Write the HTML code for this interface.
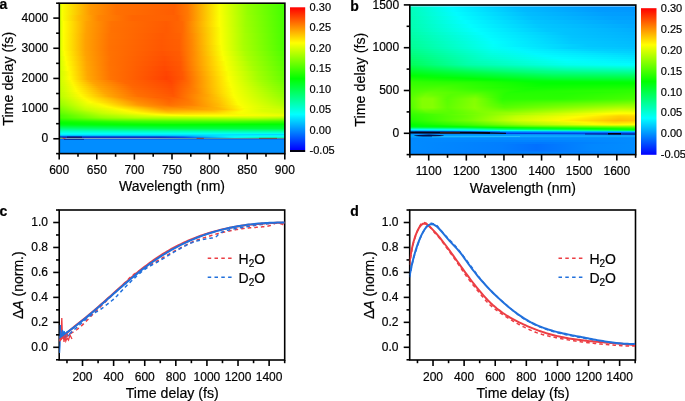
<!DOCTYPE html><html><head><meta charset="utf-8"><style>html,body{margin:0;padding:0;background:#fff;overflow:hidden}svg{display:block}text{fill:#000;stroke:#000;stroke-width:0.2px}</style></head><body><svg width="685" height="401" viewBox="0 0 685 401" font-family='"Liberation Sans", sans-serif'><defs><linearGradient id="g1" x1="59" x2="285" gradientUnits="userSpaceOnUse"><stop offset="0.002" stop-color="#cdff00"/><stop offset="0.015" stop-color="#faff00"/><stop offset="0.139" stop-color="#ff9800"/><stop offset="0.254" stop-color="#ff7100"/><stop offset="0.511" stop-color="#ff5f00"/><stop offset="0.569" stop-color="#ff7900"/><stop offset="0.710" stop-color="#f9ff00"/><stop offset="0.834" stop-color="#92ff00"/><stop offset="0.998" stop-color="#41ff00"/></linearGradient><linearGradient id="g2" x1="59" x2="285" gradientUnits="userSpaceOnUse"><stop offset="0.002" stop-color="#ceff00"/><stop offset="0.015" stop-color="#f9ff00"/><stop offset="0.139" stop-color="#ff9700"/><stop offset="0.254" stop-color="#ff7000"/><stop offset="0.507" stop-color="#ff5d00"/><stop offset="0.569" stop-color="#ff7800"/><stop offset="0.710" stop-color="#faff00"/><stop offset="0.834" stop-color="#94ff00"/><stop offset="0.998" stop-color="#43ff00"/></linearGradient><linearGradient id="g3" x1="59" x2="285" gradientUnits="userSpaceOnUse"><stop offset="0.002" stop-color="#ceff00"/><stop offset="0.015" stop-color="#f9ff00"/><stop offset="0.086" stop-color="#ffbd00"/><stop offset="0.175" stop-color="#ff8500"/><stop offset="0.325" stop-color="#ff6500"/><stop offset="0.524" stop-color="#ff6000"/><stop offset="0.573" stop-color="#ff7b00"/><stop offset="0.710" stop-color="#fcff00"/><stop offset="0.830" stop-color="#99ff00"/><stop offset="0.998" stop-color="#44ff00"/></linearGradient><linearGradient id="g4" x1="59" x2="285" gradientUnits="userSpaceOnUse"><stop offset="0.002" stop-color="#cfff00"/><stop offset="0.020" stop-color="#ffff00"/><stop offset="0.122" stop-color="#ffa100"/><stop offset="0.232" stop-color="#ff7200"/><stop offset="0.476" stop-color="#ff5b00"/><stop offset="0.546" stop-color="#ff6700"/><stop offset="0.710" stop-color="#fdff00"/><stop offset="0.825" stop-color="#9dff00"/><stop offset="0.998" stop-color="#45ff00"/></linearGradient><linearGradient id="g5" x1="59" x2="285" gradientUnits="userSpaceOnUse"><stop offset="0.002" stop-color="#d0ff00"/><stop offset="0.020" stop-color="#ffff00"/><stop offset="0.122" stop-color="#ffa000"/><stop offset="0.232" stop-color="#ff7100"/><stop offset="0.476" stop-color="#ff5a00"/><stop offset="0.546" stop-color="#ff6700"/><stop offset="0.715" stop-color="#faff00"/><stop offset="0.825" stop-color="#9fff00"/><stop offset="0.998" stop-color="#46ff00"/></linearGradient><linearGradient id="g6" x1="59" x2="285" gradientUnits="userSpaceOnUse"><stop offset="0.002" stop-color="#d0ff00"/><stop offset="0.020" stop-color="#feff00"/><stop offset="0.117" stop-color="#ffa200"/><stop offset="0.223" stop-color="#ff7300"/><stop offset="0.458" stop-color="#ff5900"/><stop offset="0.538" stop-color="#ff6200"/><stop offset="0.591" stop-color="#ff8b00"/><stop offset="0.715" stop-color="#fbff00"/><stop offset="0.821" stop-color="#a4ff00"/><stop offset="0.998" stop-color="#47ff00"/></linearGradient><linearGradient id="g7" x1="59" x2="285" gradientUnits="userSpaceOnUse"><stop offset="0.002" stop-color="#d1ff00"/><stop offset="0.020" stop-color="#fdff00"/><stop offset="0.117" stop-color="#ffa100"/><stop offset="0.223" stop-color="#ff7200"/><stop offset="0.454" stop-color="#ff5800"/><stop offset="0.533" stop-color="#ff5f00"/><stop offset="0.586" stop-color="#ff8500"/><stop offset="0.715" stop-color="#fcff00"/><stop offset="0.816" stop-color="#a8ff00"/><stop offset="0.998" stop-color="#48ff00"/></linearGradient><linearGradient id="g8" x1="59" x2="285" gradientUnits="userSpaceOnUse"><stop offset="0.002" stop-color="#d1ff00"/><stop offset="0.020" stop-color="#fcff00"/><stop offset="0.117" stop-color="#ffa100"/><stop offset="0.223" stop-color="#ff7100"/><stop offset="0.454" stop-color="#ff5700"/><stop offset="0.533" stop-color="#ff5e00"/><stop offset="0.586" stop-color="#ff8400"/><stop offset="0.719" stop-color="#faff00"/><stop offset="0.816" stop-color="#aaff00"/><stop offset="0.998" stop-color="#4aff00"/></linearGradient><linearGradient id="g9" x1="59" x2="285" gradientUnits="userSpaceOnUse"><stop offset="0.002" stop-color="#d1ff00"/><stop offset="0.024" stop-color="#feff00"/><stop offset="0.117" stop-color="#ffa300"/><stop offset="0.223" stop-color="#ff7200"/><stop offset="0.458" stop-color="#ff5300"/><stop offset="0.533" stop-color="#ff5b00"/><stop offset="0.595" stop-color="#ff8a00"/><stop offset="0.723" stop-color="#fbff00"/><stop offset="0.825" stop-color="#aaff00"/><stop offset="0.998" stop-color="#4fff00"/></linearGradient><linearGradient id="g10" x1="59" x2="285" gradientUnits="userSpaceOnUse"><stop offset="0.002" stop-color="#d0ff00"/><stop offset="0.029" stop-color="#fefe00"/><stop offset="0.122" stop-color="#ffa200"/><stop offset="0.228" stop-color="#ff7100"/><stop offset="0.467" stop-color="#ff4f00"/><stop offset="0.538" stop-color="#ff5b00"/><stop offset="0.666" stop-color="#ffc500"/><stop offset="0.728" stop-color="#fcff00"/><stop offset="0.834" stop-color="#aaff00"/><stop offset="0.998" stop-color="#54ff00"/></linearGradient><linearGradient id="g11" x1="59" x2="285" gradientUnits="userSpaceOnUse"><stop offset="0.002" stop-color="#cfff00"/><stop offset="0.033" stop-color="#fffe00"/><stop offset="0.122" stop-color="#ffa500"/><stop offset="0.223" stop-color="#ff7200"/><stop offset="0.467" stop-color="#ff4c00"/><stop offset="0.538" stop-color="#ff5800"/><stop offset="0.706" stop-color="#ffe600"/><stop offset="0.737" stop-color="#f8ff00"/><stop offset="0.852" stop-color="#a5ff00"/><stop offset="0.998" stop-color="#58ff00"/></linearGradient><linearGradient id="g12" x1="59" x2="285" gradientUnits="userSpaceOnUse"><stop offset="0.002" stop-color="#cfff00"/><stop offset="0.038" stop-color="#fffe00"/><stop offset="0.122" stop-color="#ffa700"/><stop offset="0.223" stop-color="#ff7300"/><stop offset="0.467" stop-color="#ff4800"/><stop offset="0.538" stop-color="#ff5600"/><stop offset="0.715" stop-color="#ffe900"/><stop offset="0.741" stop-color="#f9ff00"/><stop offset="0.861" stop-color="#a5ff00"/><stop offset="0.998" stop-color="#5dff00"/></linearGradient><linearGradient id="g13" x1="59" x2="285" gradientUnits="userSpaceOnUse"><stop offset="0.002" stop-color="#ceff00"/><stop offset="0.046" stop-color="#fff900"/><stop offset="0.126" stop-color="#ffa600"/><stop offset="0.228" stop-color="#ff7200"/><stop offset="0.476" stop-color="#ff4400"/><stop offset="0.546" stop-color="#ff5800"/><stop offset="0.719" stop-color="#ffe800"/><stop offset="0.750" stop-color="#f7ff00"/><stop offset="0.883" stop-color="#9fff00"/><stop offset="0.998" stop-color="#62ff00"/></linearGradient><linearGradient id="g14" x1="59" x2="285" gradientUnits="userSpaceOnUse"><stop offset="0.002" stop-color="#cdff00"/><stop offset="0.046" stop-color="#fffd00"/><stop offset="0.126" stop-color="#ffa900"/><stop offset="0.228" stop-color="#ff7300"/><stop offset="0.476" stop-color="#ff4100"/><stop offset="0.546" stop-color="#ff5600"/><stop offset="0.719" stop-color="#ffe300"/><stop offset="0.750" stop-color="#fcff00"/><stop offset="0.878" stop-color="#a6ff00"/><stop offset="0.998" stop-color="#67ff00"/></linearGradient><linearGradient id="g15" x1="59" x2="285" gradientUnits="userSpaceOnUse"><stop offset="0.002" stop-color="#caff00"/><stop offset="0.055" stop-color="#fff800"/><stop offset="0.139" stop-color="#ffa600"/><stop offset="0.263" stop-color="#ff6d00"/><stop offset="0.493" stop-color="#ff4400"/><stop offset="0.564" stop-color="#ff6400"/><stop offset="0.719" stop-color="#ffe100"/><stop offset="0.754" stop-color="#fbff00"/><stop offset="0.887" stop-color="#a6ff00"/><stop offset="0.998" stop-color="#6dff00"/></linearGradient><linearGradient id="g16" x1="59" x2="285" gradientUnits="userSpaceOnUse"><stop offset="0.002" stop-color="#c8ff00"/><stop offset="0.060" stop-color="#fff800"/><stop offset="0.153" stop-color="#ffa400"/><stop offset="0.294" stop-color="#ff6800"/><stop offset="0.498" stop-color="#ff4700"/><stop offset="0.573" stop-color="#ff6c00"/><stop offset="0.723" stop-color="#ffe300"/><stop offset="0.759" stop-color="#f9ff00"/><stop offset="0.905" stop-color="#a1ff00"/><stop offset="0.998" stop-color="#72ff00"/></linearGradient><linearGradient id="g17" x1="59" x2="285" gradientUnits="userSpaceOnUse"><stop offset="0.002" stop-color="#c6ff00"/><stop offset="0.064" stop-color="#fff800"/><stop offset="0.166" stop-color="#ffa200"/><stop offset="0.316" stop-color="#ff6600"/><stop offset="0.498" stop-color="#ff4a00"/><stop offset="0.573" stop-color="#ff6e00"/><stop offset="0.723" stop-color="#ffe200"/><stop offset="0.759" stop-color="#fbff00"/><stop offset="0.900" stop-color="#a7ff00"/><stop offset="0.998" stop-color="#77ff00"/></linearGradient><linearGradient id="g18" x1="59" x2="285" gradientUnits="userSpaceOnUse"><stop offset="0.002" stop-color="#c3ff00"/><stop offset="0.069" stop-color="#fff900"/><stop offset="0.175" stop-color="#ffa400"/><stop offset="0.325" stop-color="#ff6700"/><stop offset="0.498" stop-color="#ff4c00"/><stop offset="0.577" stop-color="#ff7200"/><stop offset="0.723" stop-color="#ffe000"/><stop offset="0.763" stop-color="#faff00"/><stop offset="0.923" stop-color="#a0ff00"/><stop offset="0.998" stop-color="#7cff00"/></linearGradient><linearGradient id="g19" x1="59" x2="285" gradientUnits="userSpaceOnUse"><stop offset="0.002" stop-color="#c1ff00"/><stop offset="0.073" stop-color="#fffa00"/><stop offset="0.184" stop-color="#ffa500"/><stop offset="0.330" stop-color="#ff6900"/><stop offset="0.502" stop-color="#ff4f00"/><stop offset="0.600" stop-color="#ff8100"/><stop offset="0.728" stop-color="#ffe200"/><stop offset="0.768" stop-color="#f8ff00"/><stop offset="0.949" stop-color="#97ff00"/><stop offset="0.998" stop-color="#80ff00"/></linearGradient><linearGradient id="g20" x1="59" x2="285" gradientUnits="userSpaceOnUse"><stop offset="0.002" stop-color="#bfff00"/><stop offset="0.077" stop-color="#fffc00"/><stop offset="0.192" stop-color="#ffa600"/><stop offset="0.334" stop-color="#ff6c00"/><stop offset="0.502" stop-color="#ff5100"/><stop offset="0.604" stop-color="#ff8400"/><stop offset="0.732" stop-color="#ffe500"/><stop offset="0.768" stop-color="#fbff00"/><stop offset="0.949" stop-color="#9cff00"/><stop offset="0.998" stop-color="#85ff00"/></linearGradient><linearGradient id="g21" x1="59" x2="285" gradientUnits="userSpaceOnUse"><stop offset="0.002" stop-color="#bcff00"/><stop offset="0.086" stop-color="#fffa00"/><stop offset="0.201" stop-color="#ffa700"/><stop offset="0.338" stop-color="#ff6e00"/><stop offset="0.502" stop-color="#ff5300"/><stop offset="0.613" stop-color="#ff8a00"/><stop offset="0.732" stop-color="#ffe300"/><stop offset="0.772" stop-color="#faff00"/><stop offset="0.985" stop-color="#90ff00"/><stop offset="0.998" stop-color="#8aff00"/></linearGradient><linearGradient id="g22" x1="59" x2="285" gradientUnits="userSpaceOnUse"><stop offset="0.002" stop-color="#baff00"/><stop offset="0.095" stop-color="#fffa00"/><stop offset="0.215" stop-color="#ffa600"/><stop offset="0.347" stop-color="#ff6f00"/><stop offset="0.507" stop-color="#ff5600"/><stop offset="0.657" stop-color="#ffa600"/><stop offset="0.772" stop-color="#fcff00"/><stop offset="0.989" stop-color="#93ff00"/><stop offset="0.998" stop-color="#8fff00"/></linearGradient><linearGradient id="g23" x1="59" x2="285" gradientUnits="userSpaceOnUse"><stop offset="0.002" stop-color="#b8ff00"/><stop offset="0.100" stop-color="#fffb00"/><stop offset="0.223" stop-color="#ffa500"/><stop offset="0.352" stop-color="#ff7000"/><stop offset="0.507" stop-color="#ff5800"/><stop offset="0.657" stop-color="#ffa600"/><stop offset="0.777" stop-color="#fbff00"/><stop offset="0.998" stop-color="#92ff00"/></linearGradient><linearGradient id="g24" x1="59" x2="285" gradientUnits="userSpaceOnUse"><stop offset="0.002" stop-color="#b4ff00"/><stop offset="0.108" stop-color="#fff900"/><stop offset="0.268" stop-color="#ff9400"/><stop offset="0.431" stop-color="#ff6100"/><stop offset="0.524" stop-color="#ff5f00"/><stop offset="0.697" stop-color="#ffbf00"/><stop offset="0.777" stop-color="#fcff00"/><stop offset="0.998" stop-color="#96ff00"/></linearGradient><linearGradient id="g25" x1="59" x2="285" gradientUnits="userSpaceOnUse"><stop offset="0.002" stop-color="#b0ff00"/><stop offset="0.113" stop-color="#fffb00"/><stop offset="0.303" stop-color="#ff8a00"/><stop offset="0.480" stop-color="#ff5e00"/><stop offset="0.546" stop-color="#ff6a00"/><stop offset="0.706" stop-color="#ffc400"/><stop offset="0.781" stop-color="#fbff00"/><stop offset="0.998" stop-color="#99ff00"/></linearGradient><linearGradient id="g26" x1="59" x2="285" gradientUnits="userSpaceOnUse"><stop offset="0.002" stop-color="#abff00"/><stop offset="0.122" stop-color="#fffa00"/><stop offset="0.321" stop-color="#ff8800"/><stop offset="0.489" stop-color="#ff6000"/><stop offset="0.569" stop-color="#ff7500"/><stop offset="0.715" stop-color="#ffca00"/><stop offset="0.785" stop-color="#faff00"/><stop offset="0.998" stop-color="#9dff00"/></linearGradient><linearGradient id="g27" x1="59" x2="285" gradientUnits="userSpaceOnUse"><stop offset="0.002" stop-color="#a7ff00"/><stop offset="0.126" stop-color="#fffc00"/><stop offset="0.330" stop-color="#ff8a00"/><stop offset="0.489" stop-color="#ff6300"/><stop offset="0.573" stop-color="#ff7800"/><stop offset="0.710" stop-color="#ffc400"/><stop offset="0.785" stop-color="#fcff00"/><stop offset="0.998" stop-color="#a0ff00"/></linearGradient><linearGradient id="g28" x1="59" x2="285" gradientUnits="userSpaceOnUse"><stop offset="0.002" stop-color="#a2ff00"/><stop offset="0.135" stop-color="#fffd00"/><stop offset="0.343" stop-color="#ff8b00"/><stop offset="0.489" stop-color="#ff6500"/><stop offset="0.582" stop-color="#ff7c00"/><stop offset="0.715" stop-color="#ffc600"/><stop offset="0.790" stop-color="#fbff00"/><stop offset="0.998" stop-color="#a3ff00"/></linearGradient><linearGradient id="g29" x1="59" x2="285" gradientUnits="userSpaceOnUse"><stop offset="0.002" stop-color="#9eff00"/><stop offset="0.139" stop-color="#fdff00"/><stop offset="0.352" stop-color="#ff8d00"/><stop offset="0.489" stop-color="#ff6800"/><stop offset="0.586" stop-color="#ff7f00"/><stop offset="0.715" stop-color="#ffc400"/><stop offset="0.790" stop-color="#fcff00"/><stop offset="0.998" stop-color="#a7ff00"/></linearGradient><linearGradient id="g30" x1="59" x2="285" gradientUnits="userSpaceOnUse"><stop offset="0.002" stop-color="#9aff00"/><stop offset="0.131" stop-color="#f2ff00"/><stop offset="0.175" stop-color="#fff600"/><stop offset="0.347" stop-color="#ff9300"/><stop offset="0.485" stop-color="#ff6b00"/><stop offset="0.582" stop-color="#ff7e00"/><stop offset="0.706" stop-color="#ffbc00"/><stop offset="0.794" stop-color="#fcff00"/><stop offset="0.998" stop-color="#aaff00"/></linearGradient><linearGradient id="g31" x1="59" x2="285" gradientUnits="userSpaceOnUse"><stop offset="0.002" stop-color="#95ff00"/><stop offset="0.122" stop-color="#e8ff00"/><stop offset="0.184" stop-color="#fff900"/><stop offset="0.347" stop-color="#ff9800"/><stop offset="0.485" stop-color="#ff6e00"/><stop offset="0.586" stop-color="#ff8000"/><stop offset="0.706" stop-color="#ffba00"/><stop offset="0.794" stop-color="#fdff00"/><stop offset="0.998" stop-color="#aeff00"/></linearGradient><linearGradient id="g32" x1="59" x2="285" gradientUnits="userSpaceOnUse"><stop offset="0.002" stop-color="#90ff00"/><stop offset="0.117" stop-color="#e0ff00"/><stop offset="0.197" stop-color="#fff900"/><stop offset="0.361" stop-color="#ff9a00"/><stop offset="0.489" stop-color="#ff7300"/><stop offset="0.600" stop-color="#ff8700"/><stop offset="0.715" stop-color="#ffbe00"/><stop offset="0.803" stop-color="#fbff00"/><stop offset="0.998" stop-color="#b2ff00"/></linearGradient><linearGradient id="g33" x1="59" x2="285" gradientUnits="userSpaceOnUse"><stop offset="0.002" stop-color="#89ff00"/><stop offset="0.117" stop-color="#d9ff00"/><stop offset="0.210" stop-color="#fffa00"/><stop offset="0.400" stop-color="#ff9500"/><stop offset="0.502" stop-color="#ff7c00"/><stop offset="0.653" stop-color="#ff9d00"/><stop offset="0.754" stop-color="#ffd900"/><stop offset="0.812" stop-color="#f9ff00"/><stop offset="0.998" stop-color="#b9ff00"/></linearGradient><linearGradient id="g34" x1="59" x2="285" gradientUnits="userSpaceOnUse"><stop offset="0.002" stop-color="#83ff00"/><stop offset="0.117" stop-color="#d3ff00"/><stop offset="0.228" stop-color="#fffa00"/><stop offset="0.449" stop-color="#ff8e00"/><stop offset="0.546" stop-color="#ff8800"/><stop offset="0.697" stop-color="#ffb000"/><stop offset="0.812" stop-color="#fcff00"/><stop offset="0.909" stop-color="#d4ff00"/><stop offset="0.998" stop-color="#bfff00"/></linearGradient><linearGradient id="g35" x1="59" x2="285" gradientUnits="userSpaceOnUse"><stop offset="0.002" stop-color="#7cff00"/><stop offset="0.113" stop-color="#caff00"/><stop offset="0.254" stop-color="#fff800"/><stop offset="0.462" stop-color="#ff9400"/><stop offset="0.586" stop-color="#ff9600"/><stop offset="0.710" stop-color="#ffb500"/><stop offset="0.799" stop-color="#fff300"/><stop offset="0.825" stop-color="#f3ff00"/><stop offset="0.976" stop-color="#c8ff00"/><stop offset="0.998" stop-color="#c6ff00"/></linearGradient><linearGradient id="g36" x1="59" x2="285" gradientUnits="userSpaceOnUse"><stop offset="0.002" stop-color="#75ff00"/><stop offset="0.113" stop-color="#c3ff00"/><stop offset="0.277" stop-color="#fffb00"/><stop offset="0.467" stop-color="#ff9c00"/><stop offset="0.631" stop-color="#ffa100"/><stop offset="0.728" stop-color="#ffbc00"/><stop offset="0.794" stop-color="#ffea00"/><stop offset="0.821" stop-color="#f8ff00"/><stop offset="0.896" stop-color="#daff00"/><stop offset="0.998" stop-color="#ccff00"/></linearGradient><linearGradient id="g37" x1="59" x2="285" gradientUnits="userSpaceOnUse"><stop offset="0.002" stop-color="#6fff00"/><stop offset="0.126" stop-color="#c0ff00"/><stop offset="0.294" stop-color="#fffa00"/><stop offset="0.476" stop-color="#ffa800"/><stop offset="0.675" stop-color="#ffb500"/><stop offset="0.781" stop-color="#ffe700"/><stop offset="0.816" stop-color="#f9ff00"/><stop offset="0.905" stop-color="#daff00"/><stop offset="0.998" stop-color="#cfff00"/></linearGradient><linearGradient id="g38" x1="59" x2="285" gradientUnits="userSpaceOnUse"><stop offset="0.002" stop-color="#69ff00"/><stop offset="0.148" stop-color="#c0ff00"/><stop offset="0.316" stop-color="#fff900"/><stop offset="0.480" stop-color="#ffb500"/><stop offset="0.688" stop-color="#ffc500"/><stop offset="0.808" stop-color="#fbff00"/><stop offset="0.909" stop-color="#dbff00"/><stop offset="0.998" stop-color="#d1ff00"/></linearGradient><linearGradient id="g39" x1="59" x2="285" gradientUnits="userSpaceOnUse"><stop offset="0.002" stop-color="#63ff00"/><stop offset="0.188" stop-color="#c9ff00"/><stop offset="0.343" stop-color="#fff900"/><stop offset="0.485" stop-color="#ffc300"/><stop offset="0.692" stop-color="#ffd300"/><stop offset="0.799" stop-color="#f9ff00"/><stop offset="0.967" stop-color="#d6ff00"/><stop offset="0.998" stop-color="#d4ff00"/></linearGradient><linearGradient id="g40" x1="59" x2="285" gradientUnits="userSpaceOnUse"><stop offset="0.002" stop-color="#5bff00"/><stop offset="0.192" stop-color="#c1ff00"/><stop offset="0.378" stop-color="#fffa00"/><stop offset="0.498" stop-color="#ffd500"/><stop offset="0.706" stop-color="#ffe300"/><stop offset="0.803" stop-color="#f8ff00"/><stop offset="0.998" stop-color="#daff00"/></linearGradient><linearGradient id="g41" x1="59" x2="285" gradientUnits="userSpaceOnUse"><stop offset="0.002" stop-color="#52ff00"/><stop offset="0.188" stop-color="#b4ff00"/><stop offset="0.431" stop-color="#fffa00"/><stop offset="0.569" stop-color="#ffe800"/><stop offset="0.741" stop-color="#fff400"/><stop offset="0.852" stop-color="#f6ff00"/><stop offset="0.998" stop-color="#e2ff00"/></linearGradient><linearGradient id="g42" x1="59" x2="285" gradientUnits="userSpaceOnUse"><stop offset="0.002" stop-color="#4aff00"/><stop offset="0.179" stop-color="#a5ff00"/><stop offset="0.498" stop-color="#fcff00"/><stop offset="0.785" stop-color="#fffc00"/><stop offset="0.998" stop-color="#e9ff00"/></linearGradient><linearGradient id="g43" x1="59" x2="285" gradientUnits="userSpaceOnUse"><stop offset="0.002" stop-color="#47ff00"/><stop offset="0.184" stop-color="#9cff00"/><stop offset="0.374" stop-color="#ccff00"/><stop offset="0.710" stop-color="#e9ff00"/><stop offset="0.958" stop-color="#d9ff00"/><stop offset="0.998" stop-color="#d2ff00"/></linearGradient><linearGradient id="g44" x1="59" x2="285" gradientUnits="userSpaceOnUse"><stop offset="0.002" stop-color="#45ff00"/><stop offset="0.188" stop-color="#94ff00"/><stop offset="0.338" stop-color="#b6ff00"/><stop offset="0.856" stop-color="#cdff00"/><stop offset="0.998" stop-color="#baff00"/></linearGradient><linearGradient id="g45" x1="59" x2="285" gradientUnits="userSpaceOnUse"><stop offset="0.002" stop-color="#3bff00"/><stop offset="0.206" stop-color="#85ff00"/><stop offset="0.347" stop-color="#9dff00"/><stop offset="0.887" stop-color="#aeff00"/><stop offset="0.998" stop-color="#9dff00"/></linearGradient><linearGradient id="g46" x1="59" x2="285" gradientUnits="userSpaceOnUse"><stop offset="0.002" stop-color="#2dff00"/><stop offset="0.232" stop-color="#6fff00"/><stop offset="0.431" stop-color="#81ff00"/><stop offset="0.861" stop-color="#8dff00"/><stop offset="0.998" stop-color="#7dff00"/></linearGradient><linearGradient id="g47" x1="59" x2="285" gradientUnits="userSpaceOnUse"><stop offset="0.002" stop-color="#1eff00"/><stop offset="0.268" stop-color="#58ff00"/><stop offset="0.772" stop-color="#6eff00"/><stop offset="0.998" stop-color="#5dff00"/></linearGradient><linearGradient id="g48" x1="59" x2="285" gradientUnits="userSpaceOnUse"><stop offset="0.002" stop-color="#10ff00"/><stop offset="0.330" stop-color="#3fff00"/><stop offset="0.746" stop-color="#4fff00"/><stop offset="0.998" stop-color="#3cff00"/></linearGradient><linearGradient id="g49" x1="59" x2="285" gradientUnits="userSpaceOnUse"><stop offset="0.002" stop-color="#05ff00"/><stop offset="0.387" stop-color="#30ff00"/><stop offset="0.785" stop-color="#34ff00"/><stop offset="0.998" stop-color="#26ff00"/></linearGradient><linearGradient id="g50" x1="59" x2="285" gradientUnits="userSpaceOnUse"><stop offset="0.002" stop-color="#00ff05"/><stop offset="0.498" stop-color="#20ff00"/><stop offset="0.998" stop-color="#11ff00"/></linearGradient><linearGradient id="g51" x1="59" x2="285" gradientUnits="userSpaceOnUse"><stop offset="0.002" stop-color="#00ff0f"/><stop offset="0.299" stop-color="#08ff00"/><stop offset="0.803" stop-color="#02ff00"/><stop offset="0.998" stop-color="#00ff04"/></linearGradient><linearGradient id="g52" x1="59" x2="285" gradientUnits="userSpaceOnUse"><stop offset="0.002" stop-color="#00ff22"/><stop offset="0.449" stop-color="#00ff0b"/><stop offset="0.998" stop-color="#00ff15"/></linearGradient><linearGradient id="g53" x1="59" x2="285" gradientUnits="userSpaceOnUse"><stop offset="0.002" stop-color="#00ff3e"/><stop offset="0.471" stop-color="#00ff20"/><stop offset="0.998" stop-color="#00ff21"/></linearGradient><linearGradient id="g54" x1="59" x2="285" gradientUnits="userSpaceOnUse"><stop offset="0.002" stop-color="#00ff59"/><stop offset="0.489" stop-color="#00ff34"/><stop offset="0.998" stop-color="#00ff2e"/></linearGradient><linearGradient id="g55" x1="59" x2="285" gradientUnits="userSpaceOnUse"><stop offset="0.002" stop-color="#00ff75"/><stop offset="0.502" stop-color="#00ff49"/><stop offset="0.998" stop-color="#00ff3a"/></linearGradient><linearGradient id="g56" x1="59" x2="285" gradientUnits="userSpaceOnUse"><stop offset="0.002" stop-color="#00ff92"/><stop offset="0.542" stop-color="#00ff6d"/><stop offset="0.998" stop-color="#00ff60"/></linearGradient><linearGradient id="g57" x1="59" x2="285" gradientUnits="userSpaceOnUse"><stop offset="0.002" stop-color="#00ffaf"/><stop offset="0.644" stop-color="#00ff90"/><stop offset="0.998" stop-color="#00ff86"/></linearGradient><linearGradient id="g58" x1="59" x2="285" gradientUnits="userSpaceOnUse"><stop offset="0.002" stop-color="#00ffca"/><stop offset="0.998" stop-color="#00ffaa"/></linearGradient><linearGradient id="g59" x1="59" x2="285" gradientUnits="userSpaceOnUse"><stop offset="0.002" stop-color="#00ffe0"/><stop offset="0.998" stop-color="#00ffcc"/></linearGradient><linearGradient id="g60" x1="59" x2="285" gradientUnits="userSpaceOnUse"><stop offset="0.002" stop-color="#00fff7"/><stop offset="0.998" stop-color="#00ffee"/></linearGradient><linearGradient id="g61" x1="59" x2="285" gradientUnits="userSpaceOnUse"><stop offset="0.002" stop-color="#00eeff"/><stop offset="0.670" stop-color="#00e7ff"/><stop offset="0.914" stop-color="#00d8ff"/><stop offset="0.998" stop-color="#00d8ff"/></linearGradient><linearGradient id="g62" x1="59" x2="285" gradientUnits="userSpaceOnUse"><stop offset="0.002" stop-color="#00c0ff"/><stop offset="0.586" stop-color="#00c6ff"/><stop offset="0.763" stop-color="#00ecff"/><stop offset="0.998" stop-color="#00f8ff"/></linearGradient><linearGradient id="g63" x1="59" x2="285" gradientUnits="userSpaceOnUse"><stop offset="0.002" stop-color="#007aff"/><stop offset="0.551" stop-color="#008dff"/><stop offset="0.746" stop-color="#00f3ff"/><stop offset="0.825" stop-color="#00fffa"/><stop offset="0.998" stop-color="#00fff0"/></linearGradient><linearGradient id="g64" x1="59" x2="285" gradientUnits="userSpaceOnUse"><stop offset="0.002" stop-color="#002fff"/><stop offset="0.546" stop-color="#0046ff"/><stop offset="0.635" stop-color="#007cff"/><stop offset="0.728" stop-color="#00d1ff"/><stop offset="0.777" stop-color="#00fffb"/><stop offset="0.883" stop-color="#00ffc2"/><stop offset="0.998" stop-color="#00ffc0"/></linearGradient><linearGradient id="g65" x1="59" x2="285" gradientUnits="userSpaceOnUse"><stop offset="0.002" stop-color="#004aff"/><stop offset="0.998" stop-color="#004aff"/></linearGradient><linearGradient id="g66" x1="59" x2="285" gradientUnits="userSpaceOnUse"><stop offset="0.002" stop-color="#0078ff"/><stop offset="0.998" stop-color="#0078ff"/></linearGradient><linearGradient id="g67" x1="59" x2="285" gradientUnits="userSpaceOnUse"><stop offset="0.002" stop-color="#008dff"/><stop offset="0.998" stop-color="#008dff"/></linearGradient><linearGradient id="g68" x1="59" x2="285" gradientUnits="userSpaceOnUse"><stop offset="0.002" stop-color="#008dff"/><stop offset="0.998" stop-color="#008dff"/></linearGradient><linearGradient id="g69" x1="59" x2="285" gradientUnits="userSpaceOnUse"><stop offset="0.002" stop-color="#008dff"/><stop offset="0.998" stop-color="#008dff"/></linearGradient><linearGradient id="g70" x1="409" x2="636" gradientUnits="userSpaceOnUse"><stop offset="0.002" stop-color="#00ffbc"/><stop offset="0.178" stop-color="#00fbff"/><stop offset="0.465" stop-color="#00bbff"/><stop offset="0.817" stop-color="#0097ff"/><stop offset="0.998" stop-color="#0093ff"/></linearGradient><linearGradient id="g71" x1="409" x2="636" gradientUnits="userSpaceOnUse"><stop offset="0.002" stop-color="#00ffb9"/><stop offset="0.196" stop-color="#00faff"/><stop offset="0.504" stop-color="#00baff"/><stop offset="0.844" stop-color="#009bff"/><stop offset="0.998" stop-color="#0098ff"/></linearGradient><linearGradient id="g72" x1="409" x2="636" gradientUnits="userSpaceOnUse"><stop offset="0.002" stop-color="#00ffb7"/><stop offset="0.209" stop-color="#00fcff"/><stop offset="0.522" stop-color="#00bdff"/><stop offset="0.866" stop-color="#009fff"/><stop offset="0.998" stop-color="#009cff"/></linearGradient><linearGradient id="g73" x1="409" x2="636" gradientUnits="userSpaceOnUse"><stop offset="0.002" stop-color="#00ffb4"/><stop offset="0.227" stop-color="#00fdff"/><stop offset="0.540" stop-color="#00c0ff"/><stop offset="0.896" stop-color="#00a3ff"/><stop offset="0.998" stop-color="#00a1ff"/></linearGradient><linearGradient id="g74" x1="409" x2="636" gradientUnits="userSpaceOnUse"><stop offset="0.002" stop-color="#00ffb1"/><stop offset="0.249" stop-color="#00fdff"/><stop offset="0.557" stop-color="#00c4ff"/><stop offset="0.932" stop-color="#00a6ff"/><stop offset="0.998" stop-color="#00a5ff"/></linearGradient><linearGradient id="g75" x1="409" x2="636" gradientUnits="userSpaceOnUse"><stop offset="0.002" stop-color="#00ffaf"/><stop offset="0.271" stop-color="#00fdff"/><stop offset="0.575" stop-color="#00c7ff"/><stop offset="0.971" stop-color="#00aaff"/><stop offset="0.998" stop-color="#00aaff"/></linearGradient><linearGradient id="g76" x1="409" x2="636" gradientUnits="userSpaceOnUse"><stop offset="0.002" stop-color="#00ffac"/><stop offset="0.293" stop-color="#00feff"/><stop offset="0.606" stop-color="#00c8ff"/><stop offset="0.998" stop-color="#00aeff"/></linearGradient><linearGradient id="g77" x1="409" x2="636" gradientUnits="userSpaceOnUse"><stop offset="0.002" stop-color="#00ffa7"/><stop offset="0.319" stop-color="#00fdff"/><stop offset="0.685" stop-color="#00c3ff"/><stop offset="0.998" stop-color="#00b2ff"/></linearGradient><linearGradient id="g78" x1="409" x2="636" gradientUnits="userSpaceOnUse"><stop offset="0.002" stop-color="#00ffa2"/><stop offset="0.341" stop-color="#00fcff"/><stop offset="0.720" stop-color="#00c3ff"/><stop offset="0.998" stop-color="#00b5ff"/></linearGradient><linearGradient id="g79" x1="409" x2="636" gradientUnits="userSpaceOnUse"><stop offset="0.002" stop-color="#00ff9e"/><stop offset="0.359" stop-color="#00fdff"/><stop offset="0.720" stop-color="#00c6ff"/><stop offset="0.998" stop-color="#00b8ff"/></linearGradient><linearGradient id="g80" x1="409" x2="636" gradientUnits="userSpaceOnUse"><stop offset="0.002" stop-color="#00ff99"/><stop offset="0.372" stop-color="#00fefe"/><stop offset="0.716" stop-color="#00c9ff"/><stop offset="0.998" stop-color="#00bbff"/></linearGradient><linearGradient id="g81" x1="409" x2="636" gradientUnits="userSpaceOnUse"><stop offset="0.002" stop-color="#00ff95"/><stop offset="0.372" stop-color="#00fffa"/><stop offset="0.482" stop-color="#00eeff"/><stop offset="0.786" stop-color="#00c7ff"/><stop offset="0.998" stop-color="#00beff"/></linearGradient><linearGradient id="g82" x1="409" x2="636" gradientUnits="userSpaceOnUse"><stop offset="0.002" stop-color="#00ff90"/><stop offset="0.368" stop-color="#00fff5"/><stop offset="0.469" stop-color="#00f7ff"/><stop offset="0.711" stop-color="#00d0ff"/><stop offset="0.998" stop-color="#00c2ff"/></linearGradient><linearGradient id="g83" x1="409" x2="636" gradientUnits="userSpaceOnUse"><stop offset="0.002" stop-color="#00ff89"/><stop offset="0.368" stop-color="#00ffee"/><stop offset="0.491" stop-color="#00f7ff"/><stop offset="0.804" stop-color="#00d1ff"/><stop offset="0.998" stop-color="#00c9ff"/></linearGradient><linearGradient id="g84" x1="409" x2="636" gradientUnits="userSpaceOnUse"><stop offset="0.002" stop-color="#00ff83"/><stop offset="0.368" stop-color="#00ffe8"/><stop offset="0.526" stop-color="#00f7ff"/><stop offset="0.901" stop-color="#00d3ff"/><stop offset="0.998" stop-color="#00d0ff"/></linearGradient><linearGradient id="g85" x1="409" x2="636" gradientUnits="userSpaceOnUse"><stop offset="0.002" stop-color="#00ff7c"/><stop offset="0.359" stop-color="#00ffdf"/><stop offset="0.562" stop-color="#00f8ff"/><stop offset="0.985" stop-color="#00d7ff"/><stop offset="0.998" stop-color="#00d7ff"/></linearGradient><linearGradient id="g86" x1="409" x2="636" gradientUnits="userSpaceOnUse"><stop offset="0.002" stop-color="#00ff75"/><stop offset="0.346" stop-color="#00ffd6"/><stop offset="0.601" stop-color="#00faff"/><stop offset="0.998" stop-color="#00deff"/></linearGradient><linearGradient id="g87" x1="409" x2="636" gradientUnits="userSpaceOnUse"><stop offset="0.002" stop-color="#00ff6e"/><stop offset="0.328" stop-color="#00ffcc"/><stop offset="0.650" stop-color="#00fcff"/><stop offset="0.998" stop-color="#00e5ff"/></linearGradient><linearGradient id="g88" x1="409" x2="636" gradientUnits="userSpaceOnUse"><stop offset="0.002" stop-color="#00ff67"/><stop offset="0.302" stop-color="#00ffc0"/><stop offset="0.689" stop-color="#00fefe"/><stop offset="0.998" stop-color="#00ecff"/></linearGradient><linearGradient id="g89" x1="409" x2="636" gradientUnits="userSpaceOnUse"><stop offset="0.002" stop-color="#00ff60"/><stop offset="0.275" stop-color="#00ffb4"/><stop offset="0.698" stop-color="#00fff8"/><stop offset="0.998" stop-color="#00f3ff"/></linearGradient><linearGradient id="g90" x1="409" x2="636" gradientUnits="userSpaceOnUse"><stop offset="0.002" stop-color="#00ff5a"/><stop offset="0.258" stop-color="#00ffaa"/><stop offset="0.698" stop-color="#00fff0"/><stop offset="0.998" stop-color="#00fbff"/></linearGradient><linearGradient id="g91" x1="409" x2="636" gradientUnits="userSpaceOnUse"><stop offset="0.002" stop-color="#00ff51"/><stop offset="0.258" stop-color="#00ff9f"/><stop offset="0.698" stop-color="#00ffe4"/><stop offset="0.998" stop-color="#00fff7"/></linearGradient><linearGradient id="g92" x1="409" x2="636" gradientUnits="userSpaceOnUse"><stop offset="0.002" stop-color="#00ff49"/><stop offset="0.267" stop-color="#00ff95"/><stop offset="0.694" stop-color="#00ffd6"/><stop offset="0.998" stop-color="#00ffe8"/></linearGradient><linearGradient id="g93" x1="409" x2="636" gradientUnits="userSpaceOnUse"><stop offset="0.002" stop-color="#00ff41"/><stop offset="0.280" stop-color="#00ff8b"/><stop offset="0.689" stop-color="#00ffc9"/><stop offset="0.998" stop-color="#00ffda"/></linearGradient><linearGradient id="g94" x1="409" x2="636" gradientUnits="userSpaceOnUse"><stop offset="0.002" stop-color="#00ff39"/><stop offset="0.297" stop-color="#00ff82"/><stop offset="0.689" stop-color="#00ffbb"/><stop offset="0.998" stop-color="#00ffcb"/></linearGradient><linearGradient id="g95" x1="409" x2="636" gradientUnits="userSpaceOnUse"><stop offset="0.002" stop-color="#00ff32"/><stop offset="0.324" stop-color="#00ff7b"/><stop offset="0.685" stop-color="#00ffae"/><stop offset="0.998" stop-color="#00ffbd"/></linearGradient><linearGradient id="g96" x1="409" x2="636" gradientUnits="userSpaceOnUse"><stop offset="0.002" stop-color="#00ff2a"/><stop offset="0.363" stop-color="#00ff75"/><stop offset="0.689" stop-color="#00ffa1"/><stop offset="0.998" stop-color="#00ffae"/></linearGradient><linearGradient id="g97" x1="409" x2="636" gradientUnits="userSpaceOnUse"><stop offset="0.002" stop-color="#00ff22"/><stop offset="0.456" stop-color="#00ff78"/><stop offset="0.756" stop-color="#00ff97"/><stop offset="0.998" stop-color="#00ffa0"/></linearGradient><linearGradient id="g98" x1="409" x2="636" gradientUnits="userSpaceOnUse"><stop offset="0.002" stop-color="#00ff1a"/><stop offset="0.588" stop-color="#00ff7f"/><stop offset="0.998" stop-color="#00ff91"/></linearGradient><linearGradient id="g99" x1="409" x2="636" gradientUnits="userSpaceOnUse"><stop offset="0.002" stop-color="#00ff12"/><stop offset="0.628" stop-color="#00ff75"/><stop offset="0.998" stop-color="#00ff83"/></linearGradient><linearGradient id="g100" x1="409" x2="636" gradientUnits="userSpaceOnUse"><stop offset="0.002" stop-color="#00ff0a"/><stop offset="0.632" stop-color="#00ff68"/><stop offset="0.998" stop-color="#00ff74"/></linearGradient><linearGradient id="g101" x1="409" x2="636" gradientUnits="userSpaceOnUse"><stop offset="0.002" stop-color="#00ff02"/><stop offset="0.637" stop-color="#00ff5b"/><stop offset="0.998" stop-color="#00ff66"/></linearGradient><linearGradient id="g102" x1="409" x2="636" gradientUnits="userSpaceOnUse"><stop offset="0.002" stop-color="#06ff00"/><stop offset="0.253" stop-color="#00ff1b"/><stop offset="0.641" stop-color="#00ff4f"/><stop offset="0.998" stop-color="#00ff57"/></linearGradient><linearGradient id="g103" x1="409" x2="636" gradientUnits="userSpaceOnUse"><stop offset="0.002" stop-color="#0eff00"/><stop offset="0.205" stop-color="#00ff09"/><stop offset="0.637" stop-color="#00ff41"/><stop offset="0.998" stop-color="#00ff49"/></linearGradient><linearGradient id="g104" x1="409" x2="636" gradientUnits="userSpaceOnUse"><stop offset="0.002" stop-color="#16ff00"/><stop offset="0.284" stop-color="#00ff07"/><stop offset="0.632" stop-color="#00ff34"/><stop offset="0.998" stop-color="#00ff3b"/></linearGradient><linearGradient id="g105" x1="409" x2="636" gradientUnits="userSpaceOnUse"><stop offset="0.002" stop-color="#1eff00"/><stop offset="0.359" stop-color="#00ff06"/><stop offset="0.641" stop-color="#00ff27"/><stop offset="0.998" stop-color="#00ff2c"/></linearGradient><linearGradient id="g106" x1="409" x2="636" gradientUnits="userSpaceOnUse"><stop offset="0.002" stop-color="#26ff00"/><stop offset="0.328" stop-color="#0bff00"/><stop offset="0.487" stop-color="#00ff0d"/><stop offset="0.795" stop-color="#00ff1d"/><stop offset="0.998" stop-color="#00ff1e"/></linearGradient><linearGradient id="g107" x1="409" x2="636" gradientUnits="userSpaceOnUse"><stop offset="0.002" stop-color="#2eff00"/><stop offset="0.302" stop-color="#1bff00"/><stop offset="0.531" stop-color="#00ff07"/><stop offset="0.998" stop-color="#00ff0f"/></linearGradient><linearGradient id="g108" x1="409" x2="636" gradientUnits="userSpaceOnUse"><stop offset="0.002" stop-color="#33ff00"/><stop offset="0.271" stop-color="#26ff00"/><stop offset="0.579" stop-color="#00ff04"/><stop offset="0.998" stop-color="#00ff05"/></linearGradient><linearGradient id="g109" x1="409" x2="636" gradientUnits="userSpaceOnUse"><stop offset="0.002" stop-color="#36ff00"/><stop offset="0.236" stop-color="#2eff00"/><stop offset="0.601" stop-color="#00ff00"/><stop offset="0.998" stop-color="#01ff00"/></linearGradient><linearGradient id="g110" x1="409" x2="636" gradientUnits="userSpaceOnUse"><stop offset="0.002" stop-color="#38ff00"/><stop offset="0.205" stop-color="#35ff00"/><stop offset="0.588" stop-color="#04ff00"/><stop offset="0.998" stop-color="#07ff00"/></linearGradient><linearGradient id="g111" x1="409" x2="636" gradientUnits="userSpaceOnUse"><stop offset="0.002" stop-color="#3bff00"/><stop offset="0.183" stop-color="#3cff00"/><stop offset="0.570" stop-color="#08ff00"/><stop offset="0.998" stop-color="#0dff00"/></linearGradient><linearGradient id="g112" x1="409" x2="636" gradientUnits="userSpaceOnUse"><stop offset="0.002" stop-color="#3eff00"/><stop offset="0.161" stop-color="#42ff00"/><stop offset="0.557" stop-color="#0cff00"/><stop offset="0.998" stop-color="#13ff00"/></linearGradient><linearGradient id="g113" x1="409" x2="636" gradientUnits="userSpaceOnUse"><stop offset="0.002" stop-color="#40ff00"/><stop offset="0.148" stop-color="#48ff00"/><stop offset="0.399" stop-color="#20ff00"/><stop offset="0.597" stop-color="#0fff00"/><stop offset="0.998" stop-color="#19ff00"/></linearGradient><linearGradient id="g114" x1="409" x2="636" gradientUnits="userSpaceOnUse"><stop offset="0.002" stop-color="#43ff00"/><stop offset="0.134" stop-color="#4dff00"/><stop offset="0.372" stop-color="#29ff00"/><stop offset="0.544" stop-color="#13ff00"/><stop offset="0.998" stop-color="#1fff00"/></linearGradient><linearGradient id="g115" x1="409" x2="636" gradientUnits="userSpaceOnUse"><stop offset="0.002" stop-color="#46ff00"/><stop offset="0.126" stop-color="#52ff00"/><stop offset="0.359" stop-color="#2fff00"/><stop offset="0.522" stop-color="#17ff00"/><stop offset="0.998" stop-color="#26ff00"/></linearGradient><linearGradient id="g116" x1="409" x2="636" gradientUnits="userSpaceOnUse"><stop offset="0.002" stop-color="#48ff00"/><stop offset="0.117" stop-color="#57ff00"/><stop offset="0.346" stop-color="#36ff00"/><stop offset="0.509" stop-color="#1aff00"/><stop offset="0.998" stop-color="#2cff00"/></linearGradient><linearGradient id="g117" x1="409" x2="636" gradientUnits="userSpaceOnUse"><stop offset="0.002" stop-color="#4aff00"/><stop offset="0.099" stop-color="#5dff00"/><stop offset="0.328" stop-color="#40ff00"/><stop offset="0.474" stop-color="#1dff00"/><stop offset="0.967" stop-color="#2dff00"/><stop offset="0.998" stop-color="#2fff00"/></linearGradient><linearGradient id="g118" x1="409" x2="636" gradientUnits="userSpaceOnUse"><stop offset="0.002" stop-color="#4bff00"/><stop offset="0.090" stop-color="#63ff00"/><stop offset="0.218" stop-color="#53ff00"/><stop offset="0.319" stop-color="#4aff00"/><stop offset="0.447" stop-color="#21ff00"/><stop offset="0.830" stop-color="#26ff00"/><stop offset="0.998" stop-color="#32ff00"/></linearGradient><linearGradient id="g119" x1="409" x2="636" gradientUnits="userSpaceOnUse"><stop offset="0.002" stop-color="#4dff00"/><stop offset="0.081" stop-color="#69ff00"/><stop offset="0.200" stop-color="#55ff00"/><stop offset="0.306" stop-color="#55ff00"/><stop offset="0.430" stop-color="#25ff00"/><stop offset="0.711" stop-color="#23ff00"/><stop offset="0.998" stop-color="#36ff00"/></linearGradient><linearGradient id="g120" x1="409" x2="636" gradientUnits="userSpaceOnUse"><stop offset="0.002" stop-color="#4eff00"/><stop offset="0.077" stop-color="#6eff00"/><stop offset="0.187" stop-color="#55ff00"/><stop offset="0.297" stop-color="#5fff00"/><stop offset="0.425" stop-color="#27ff00"/><stop offset="0.694" stop-color="#25ff00"/><stop offset="0.998" stop-color="#39ff00"/></linearGradient><linearGradient id="g121" x1="409" x2="636" gradientUnits="userSpaceOnUse"><stop offset="0.002" stop-color="#50ff00"/><stop offset="0.073" stop-color="#73ff00"/><stop offset="0.126" stop-color="#67ff00"/><stop offset="0.183" stop-color="#56ff00"/><stop offset="0.293" stop-color="#68ff00"/><stop offset="0.421" stop-color="#28ff00"/><stop offset="0.681" stop-color="#26ff00"/><stop offset="0.998" stop-color="#3dff00"/></linearGradient><linearGradient id="g122" x1="409" x2="636" gradientUnits="userSpaceOnUse"><stop offset="0.002" stop-color="#51ff00"/><stop offset="0.068" stop-color="#78ff00"/><stop offset="0.117" stop-color="#70ff00"/><stop offset="0.174" stop-color="#56ff00"/><stop offset="0.293" stop-color="#6fff00"/><stop offset="0.416" stop-color="#2aff00"/><stop offset="0.676" stop-color="#27ff00"/><stop offset="0.998" stop-color="#40ff00"/></linearGradient><linearGradient id="g123" x1="409" x2="636" gradientUnits="userSpaceOnUse"><stop offset="0.002" stop-color="#53ff00"/><stop offset="0.064" stop-color="#7dff00"/><stop offset="0.108" stop-color="#79ff00"/><stop offset="0.170" stop-color="#57ff00"/><stop offset="0.293" stop-color="#77ff00"/><stop offset="0.363" stop-color="#48ff00"/><stop offset="0.421" stop-color="#2aff00"/><stop offset="0.676" stop-color="#29ff00"/><stop offset="0.998" stop-color="#44ff00"/></linearGradient><linearGradient id="g124" x1="409" x2="636" gradientUnits="userSpaceOnUse"><stop offset="0.002" stop-color="#54ff00"/><stop offset="0.059" stop-color="#81ff00"/><stop offset="0.104" stop-color="#81ff00"/><stop offset="0.170" stop-color="#57ff00"/><stop offset="0.289" stop-color="#7fff00"/><stop offset="0.346" stop-color="#5cff00"/><stop offset="0.412" stop-color="#2cff00"/><stop offset="0.667" stop-color="#2aff00"/><stop offset="0.998" stop-color="#47ff00"/></linearGradient><linearGradient id="g125" x1="409" x2="636" gradientUnits="userSpaceOnUse"><stop offset="0.002" stop-color="#55ff00"/><stop offset="0.059" stop-color="#83ff00"/><stop offset="0.104" stop-color="#84ff00"/><stop offset="0.165" stop-color="#58ff00"/><stop offset="0.231" stop-color="#70ff00"/><stop offset="0.293" stop-color="#83ff00"/><stop offset="0.355" stop-color="#57ff00"/><stop offset="0.412" stop-color="#2fff00"/><stop offset="0.667" stop-color="#30ff00"/><stop offset="0.998" stop-color="#4eff00"/></linearGradient><linearGradient id="g126" x1="409" x2="636" gradientUnits="userSpaceOnUse"><stop offset="0.002" stop-color="#54ff00"/><stop offset="0.059" stop-color="#83ff00"/><stop offset="0.104" stop-color="#84ff00"/><stop offset="0.170" stop-color="#59ff00"/><stop offset="0.289" stop-color="#84ff00"/><stop offset="0.346" stop-color="#62ff00"/><stop offset="0.412" stop-color="#34ff00"/><stop offset="0.681" stop-color="#3cff00"/><stop offset="0.998" stop-color="#5aff00"/></linearGradient><linearGradient id="g127" x1="409" x2="636" gradientUnits="userSpaceOnUse"><stop offset="0.002" stop-color="#53ff00"/><stop offset="0.059" stop-color="#83ff00"/><stop offset="0.104" stop-color="#84ff00"/><stop offset="0.170" stop-color="#5aff00"/><stop offset="0.289" stop-color="#85ff00"/><stop offset="0.346" stop-color="#65ff00"/><stop offset="0.412" stop-color="#39ff00"/><stop offset="0.694" stop-color="#48ff00"/><stop offset="0.998" stop-color="#66ff00"/></linearGradient><linearGradient id="g128" x1="409" x2="636" gradientUnits="userSpaceOnUse"><stop offset="0.002" stop-color="#52ff00"/><stop offset="0.059" stop-color="#83ff00"/><stop offset="0.104" stop-color="#84ff00"/><stop offset="0.170" stop-color="#5bff00"/><stop offset="0.289" stop-color="#85ff00"/><stop offset="0.350" stop-color="#63ff00"/><stop offset="0.412" stop-color="#3eff00"/><stop offset="0.716" stop-color="#56ff00"/><stop offset="0.998" stop-color="#72ff00"/></linearGradient><linearGradient id="g129" x1="409" x2="636" gradientUnits="userSpaceOnUse"><stop offset="0.002" stop-color="#51ff00"/><stop offset="0.059" stop-color="#83ff00"/><stop offset="0.104" stop-color="#84ff00"/><stop offset="0.170" stop-color="#5cff00"/><stop offset="0.289" stop-color="#86ff00"/><stop offset="0.355" stop-color="#63ff00"/><stop offset="0.416" stop-color="#42ff00"/><stop offset="0.786" stop-color="#6aff00"/><stop offset="0.998" stop-color="#7eff00"/></linearGradient><linearGradient id="g130" x1="409" x2="636" gradientUnits="userSpaceOnUse"><stop offset="0.002" stop-color="#50ff00"/><stop offset="0.059" stop-color="#83ff00"/><stop offset="0.104" stop-color="#84ff00"/><stop offset="0.170" stop-color="#5dff00"/><stop offset="0.289" stop-color="#87ff00"/><stop offset="0.359" stop-color="#63ff00"/><stop offset="0.421" stop-color="#47ff00"/><stop offset="0.958" stop-color="#89ff00"/><stop offset="0.998" stop-color="#8aff00"/></linearGradient><linearGradient id="g131" x1="409" x2="636" gradientUnits="userSpaceOnUse"><stop offset="0.002" stop-color="#4fff00"/><stop offset="0.059" stop-color="#82ff00"/><stop offset="0.104" stop-color="#84ff00"/><stop offset="0.170" stop-color="#5eff00"/><stop offset="0.289" stop-color="#87ff00"/><stop offset="0.363" stop-color="#63ff00"/><stop offset="0.425" stop-color="#4dff00"/><stop offset="0.941" stop-color="#94ff00"/><stop offset="0.998" stop-color="#96ff00"/></linearGradient><linearGradient id="g132" x1="409" x2="636" gradientUnits="userSpaceOnUse"><stop offset="0.002" stop-color="#4eff00"/><stop offset="0.059" stop-color="#82ff00"/><stop offset="0.104" stop-color="#85ff00"/><stop offset="0.170" stop-color="#5fff00"/><stop offset="0.289" stop-color="#88ff00"/><stop offset="0.416" stop-color="#52ff00"/><stop offset="0.932" stop-color="#a1ff00"/><stop offset="0.998" stop-color="#a2ff00"/></linearGradient><linearGradient id="g133" x1="409" x2="636" gradientUnits="userSpaceOnUse"><stop offset="0.002" stop-color="#4cff00"/><stop offset="0.059" stop-color="#82ff00"/><stop offset="0.104" stop-color="#85ff00"/><stop offset="0.170" stop-color="#60ff00"/><stop offset="0.289" stop-color="#89ff00"/><stop offset="0.421" stop-color="#57ff00"/><stop offset="0.923" stop-color="#adff00"/><stop offset="0.998" stop-color="#adff00"/></linearGradient><linearGradient id="g134" x1="409" x2="636" gradientUnits="userSpaceOnUse"><stop offset="0.002" stop-color="#49ff00"/><stop offset="0.059" stop-color="#7aff00"/><stop offset="0.104" stop-color="#7dff00"/><stop offset="0.170" stop-color="#5eff00"/><stop offset="0.293" stop-color="#87ff00"/><stop offset="0.421" stop-color="#61ff00"/><stop offset="0.927" stop-color="#bcff00"/><stop offset="0.998" stop-color="#bbff00"/></linearGradient><linearGradient id="g135" x1="409" x2="636" gradientUnits="userSpaceOnUse"><stop offset="0.002" stop-color="#45ff00"/><stop offset="0.064" stop-color="#73ff00"/><stop offset="0.112" stop-color="#71ff00"/><stop offset="0.174" stop-color="#5cff00"/><stop offset="0.297" stop-color="#84ff00"/><stop offset="0.425" stop-color="#6bff00"/><stop offset="0.927" stop-color="#caff00"/><stop offset="0.998" stop-color="#c9ff00"/></linearGradient><linearGradient id="g136" x1="409" x2="636" gradientUnits="userSpaceOnUse"><stop offset="0.002" stop-color="#41ff00"/><stop offset="0.073" stop-color="#6cff00"/><stop offset="0.130" stop-color="#63ff00"/><stop offset="0.187" stop-color="#5dff00"/><stop offset="0.302" stop-color="#82ff00"/><stop offset="0.434" stop-color="#77ff00"/><stop offset="0.927" stop-color="#d9ff00"/><stop offset="0.998" stop-color="#d7ff00"/></linearGradient><linearGradient id="g137" x1="409" x2="636" gradientUnits="userSpaceOnUse"><stop offset="0.002" stop-color="#3dff00"/><stop offset="0.077" stop-color="#63ff00"/><stop offset="0.187" stop-color="#5bff00"/><stop offset="0.311" stop-color="#81ff00"/><stop offset="0.447" stop-color="#84ff00"/><stop offset="0.927" stop-color="#e8ff00"/><stop offset="0.998" stop-color="#e5ff00"/></linearGradient><linearGradient id="g138" x1="409" x2="636" gradientUnits="userSpaceOnUse"><stop offset="0.002" stop-color="#3aff00"/><stop offset="0.090" stop-color="#5cff00"/><stop offset="0.187" stop-color="#59ff00"/><stop offset="0.324" stop-color="#82ff00"/><stop offset="0.491" stop-color="#99ff00"/><stop offset="0.927" stop-color="#f6ff00"/><stop offset="0.998" stop-color="#f3ff00"/></linearGradient><linearGradient id="g139" x1="409" x2="636" gradientUnits="userSpaceOnUse"><stop offset="0.002" stop-color="#36ff00"/><stop offset="0.104" stop-color="#53ff00"/><stop offset="0.196" stop-color="#5aff00"/><stop offset="0.359" stop-color="#89ff00"/><stop offset="0.870" stop-color="#fdff00"/><stop offset="0.998" stop-color="#fffd00"/></linearGradient><linearGradient id="g140" x1="409" x2="636" gradientUnits="userSpaceOnUse"><stop offset="0.002" stop-color="#32ff00"/><stop offset="0.134" stop-color="#4dff00"/><stop offset="0.289" stop-color="#78ff00"/><stop offset="0.716" stop-color="#e2ff00"/><stop offset="0.857" stop-color="#fff800"/><stop offset="0.949" stop-color="#ffeb00"/><stop offset="0.998" stop-color="#ffef00"/></linearGradient><linearGradient id="g141" x1="409" x2="636" gradientUnits="userSpaceOnUse"><stop offset="0.002" stop-color="#2eff00"/><stop offset="0.249" stop-color="#67ff00"/><stop offset="0.487" stop-color="#bbff00"/><stop offset="0.808" stop-color="#fff900"/><stop offset="0.927" stop-color="#ffdc00"/><stop offset="0.998" stop-color="#ffe100"/></linearGradient><linearGradient id="g142" x1="409" x2="636" gradientUnits="userSpaceOnUse"><stop offset="0.002" stop-color="#2aff00"/><stop offset="0.240" stop-color="#63ff00"/><stop offset="0.469" stop-color="#bfff00"/><stop offset="0.756" stop-color="#fffd00"/><stop offset="0.923" stop-color="#ffd000"/><stop offset="0.998" stop-color="#ffd600"/></linearGradient><linearGradient id="g143" x1="409" x2="636" gradientUnits="userSpaceOnUse"><stop offset="0.002" stop-color="#27ff00"/><stop offset="0.253" stop-color="#69ff00"/><stop offset="0.465" stop-color="#c2ff00"/><stop offset="0.729" stop-color="#fffc00"/><stop offset="0.927" stop-color="#ffcb00"/><stop offset="0.998" stop-color="#ffd100"/></linearGradient><linearGradient id="g144" x1="409" x2="636" gradientUnits="userSpaceOnUse"><stop offset="0.002" stop-color="#23ff00"/><stop offset="0.262" stop-color="#6eff00"/><stop offset="0.469" stop-color="#c8ff00"/><stop offset="0.703" stop-color="#fffb00"/><stop offset="0.927" stop-color="#ffc500"/><stop offset="0.998" stop-color="#ffcc00"/></linearGradient><linearGradient id="g145" x1="409" x2="636" gradientUnits="userSpaceOnUse"><stop offset="0.002" stop-color="#20ff00"/><stop offset="0.267" stop-color="#72ff00"/><stop offset="0.469" stop-color="#ccff00"/><stop offset="0.681" stop-color="#fffa00"/><stop offset="0.923" stop-color="#ffc000"/><stop offset="0.998" stop-color="#ffc800"/></linearGradient><linearGradient id="g146" x1="409" x2="636" gradientUnits="userSpaceOnUse"><stop offset="0.002" stop-color="#1cff00"/><stop offset="0.275" stop-color="#78ff00"/><stop offset="0.474" stop-color="#d0ff00"/><stop offset="0.659" stop-color="#fffa00"/><stop offset="0.919" stop-color="#ffbb00"/><stop offset="0.998" stop-color="#ffc400"/></linearGradient><linearGradient id="g147" x1="409" x2="636" gradientUnits="userSpaceOnUse"><stop offset="0.002" stop-color="#16ff00"/><stop offset="0.275" stop-color="#6bff00"/><stop offset="0.478" stop-color="#c2ff00"/><stop offset="0.725" stop-color="#fff900"/><stop offset="0.910" stop-color="#ffca00"/><stop offset="0.998" stop-color="#ffd300"/></linearGradient><linearGradient id="g148" x1="409" x2="636" gradientUnits="userSpaceOnUse"><stop offset="0.002" stop-color="#0fff00"/><stop offset="0.271" stop-color="#5dff00"/><stop offset="0.487" stop-color="#b6ff00"/><stop offset="0.778" stop-color="#fff900"/><stop offset="0.901" stop-color="#ffd800"/><stop offset="0.998" stop-color="#ffe300"/></linearGradient><linearGradient id="g149" x1="409" x2="636" gradientUnits="userSpaceOnUse"><stop offset="0.002" stop-color="#08ff00"/><stop offset="0.267" stop-color="#4eff00"/><stop offset="0.496" stop-color="#a9ff00"/><stop offset="0.813" stop-color="#fff900"/><stop offset="0.910" stop-color="#ffe600"/><stop offset="0.998" stop-color="#fff300"/></linearGradient><linearGradient id="g150" x1="409" x2="636" gradientUnits="userSpaceOnUse"><stop offset="0.002" stop-color="#01ff00"/><stop offset="0.267" stop-color="#42ff00"/><stop offset="0.509" stop-color="#9dff00"/><stop offset="0.808" stop-color="#f5ff00"/><stop offset="0.874" stop-color="#fff500"/><stop offset="0.998" stop-color="#fcff00"/></linearGradient><linearGradient id="g151" x1="409" x2="636" gradientUnits="userSpaceOnUse"><stop offset="0.002" stop-color="#00ff07"/><stop offset="0.139" stop-color="#0dff00"/><stop offset="0.333" stop-color="#42ff00"/><stop offset="0.553" stop-color="#84ff00"/><stop offset="0.892" stop-color="#ceff00"/><stop offset="0.998" stop-color="#c6ff00"/></linearGradient><linearGradient id="g152" x1="409" x2="636" gradientUnits="userSpaceOnUse"><stop offset="0.002" stop-color="#00ff10"/><stop offset="0.222" stop-color="#07ff00"/><stop offset="0.535" stop-color="#54ff00"/><stop offset="0.932" stop-color="#85ff00"/><stop offset="0.998" stop-color="#85ff00"/></linearGradient><linearGradient id="g153" x1="409" x2="636" gradientUnits="userSpaceOnUse"><stop offset="0.002" stop-color="#00ff44"/><stop offset="0.275" stop-color="#00ff27"/><stop offset="0.403" stop-color="#05ff00"/><stop offset="0.817" stop-color="#3eff00"/><stop offset="0.998" stop-color="#4eff00"/></linearGradient><linearGradient id="g154" x1="409" x2="636" gradientUnits="userSpaceOnUse"><stop offset="0.002" stop-color="#00ff9c"/><stop offset="0.244" stop-color="#00ff80"/><stop offset="0.443" stop-color="#00ff34"/><stop offset="0.826" stop-color="#07ff00"/><stop offset="0.998" stop-color="#23ff00"/></linearGradient><linearGradient id="g155" x1="409" x2="636" gradientUnits="userSpaceOnUse"><stop offset="0.002" stop-color="#00fff4"/><stop offset="0.214" stop-color="#00ffda"/><stop offset="0.306" stop-color="#00ffb9"/><stop offset="0.421" stop-color="#00ff7b"/><stop offset="0.945" stop-color="#00ff16"/><stop offset="0.998" stop-color="#00ff09"/></linearGradient><linearGradient id="g156" x1="409" x2="636" gradientUnits="userSpaceOnUse"><stop offset="0.002" stop-color="#00bbff"/><stop offset="0.311" stop-color="#00ebff"/><stop offset="0.412" stop-color="#00fff8"/><stop offset="0.857" stop-color="#00ff85"/><stop offset="0.998" stop-color="#00ff54"/></linearGradient><linearGradient id="g157" x1="409" x2="636" gradientUnits="userSpaceOnUse"><stop offset="0.002" stop-color="#0087ff"/><stop offset="0.910" stop-color="#00bfff"/><stop offset="0.998" stop-color="#00c7ff"/></linearGradient><linearGradient id="g158" x1="409" x2="636" gradientUnits="userSpaceOnUse"><stop offset="0.002" stop-color="#0064ff"/><stop offset="0.751" stop-color="#0074ff"/><stop offset="0.998" stop-color="#0071ff"/></linearGradient><linearGradient id="g159" x1="409" x2="636" gradientUnits="userSpaceOnUse"><stop offset="0.002" stop-color="#007aff"/><stop offset="0.998" stop-color="#007aff"/></linearGradient><linearGradient id="g160" x1="409" x2="636" gradientUnits="userSpaceOnUse"><stop offset="0.002" stop-color="#0093ff"/><stop offset="0.998" stop-color="#0091ff"/></linearGradient><linearGradient id="g161" x1="409" x2="636" gradientUnits="userSpaceOnUse"><stop offset="0.002" stop-color="#00a2ff"/><stop offset="0.998" stop-color="#009eff"/></linearGradient><linearGradient id="g162" x1="409" x2="636" gradientUnits="userSpaceOnUse"><stop offset="0.002" stop-color="#0095ff"/><stop offset="0.998" stop-color="#0094ff"/></linearGradient><linearGradient id="g163" x1="409" x2="636" gradientUnits="userSpaceOnUse"><stop offset="0.002" stop-color="#0089ff"/><stop offset="0.998" stop-color="#008cff"/></linearGradient><linearGradient id="g164" x1="409" x2="636" gradientUnits="userSpaceOnUse"><stop offset="0.002" stop-color="#008aff"/><stop offset="0.619" stop-color="#0084ff"/><stop offset="0.998" stop-color="#008cff"/></linearGradient><linearGradient id="g165" x1="409" x2="636" gradientUnits="userSpaceOnUse"><stop offset="0.002" stop-color="#008bff"/><stop offset="0.430" stop-color="#007eff"/><stop offset="0.584" stop-color="#0079ff"/><stop offset="0.998" stop-color="#008cff"/></linearGradient><linearGradient id="g166" x1="409" x2="636" gradientUnits="userSpaceOnUse"><stop offset="0.002" stop-color="#008bff"/><stop offset="0.407" stop-color="#007eff"/><stop offset="0.562" stop-color="#0070ff"/><stop offset="0.804" stop-color="#0087ff"/><stop offset="0.998" stop-color="#008cff"/></linearGradient><linearGradient id="g167" x1="409" x2="636" gradientUnits="userSpaceOnUse"><stop offset="0.002" stop-color="#0089ff"/><stop offset="0.407" stop-color="#007fff"/><stop offset="0.562" stop-color="#0071ff"/><stop offset="0.808" stop-color="#0088ff"/><stop offset="0.998" stop-color="#008cff"/></linearGradient><linearGradient id="g168" x1="409" x2="636" gradientUnits="userSpaceOnUse"><stop offset="0.002" stop-color="#0088ff"/><stop offset="0.425" stop-color="#007eff"/><stop offset="0.584" stop-color="#0078ff"/><stop offset="0.998" stop-color="#008aff"/></linearGradient><linearGradient id="g169" x1="409" x2="636" gradientUnits="userSpaceOnUse"><stop offset="0.002" stop-color="#0088ff"/><stop offset="0.465" stop-color="#007dff"/><stop offset="0.998" stop-color="#0089ff"/></linearGradient><linearGradient id="g170" x1="409" x2="636" gradientUnits="userSpaceOnUse"><stop offset="0.002" stop-color="#0087ff"/><stop offset="0.703" stop-color="#0085ff"/><stop offset="0.998" stop-color="#0088ff"/></linearGradient><linearGradient id="g171" x1="409" x2="636" gradientUnits="userSpaceOnUse"><stop offset="0.002" stop-color="#0086ff"/><stop offset="0.998" stop-color="#0086ff"/></linearGradient><linearGradient id="cbg" x1="0" y1="0" x2="0" y2="1"><stop offset="0" stop-color="#ff0000"/><stop offset="0.25" stop-color="#ffff00"/><stop offset="0.5" stop-color="#00ff00"/><stop offset="0.75" stop-color="#00ffff"/><stop offset="1" stop-color="#0000ff"/></linearGradient></defs><g opacity="0.999"><clipPath id="ca"><rect x="59.30" y="3.20" width="225.60" height="150.40"/></clipPath><g clip-path="url(#ca)"><rect x="59" y="3" width="226" height="6" fill="url(#g1)"/><rect x="59" y="9" width="226" height="6" fill="url(#g2)"/><rect x="59" y="15" width="226" height="6" fill="url(#g3)"/><rect x="59" y="21" width="226" height="6" fill="url(#g4)"/><rect x="59" y="27" width="226" height="6" fill="url(#g5)"/><rect x="59" y="33" width="226" height="6" fill="url(#g6)"/><rect x="59" y="39" width="226" height="6" fill="url(#g7)"/><rect x="59" y="45" width="226" height="6" fill="url(#g8)"/><rect x="59" y="51" width="226" height="5" fill="url(#g9)"/><rect x="59" y="56" width="226" height="5" fill="url(#g10)"/><rect x="59" y="61" width="226" height="5" fill="url(#g11)"/><rect x="59" y="66" width="226" height="5" fill="url(#g12)"/><rect x="59" y="71" width="226" height="5" fill="url(#g13)"/><rect x="59" y="76" width="226" height="4" fill="url(#g14)"/><rect x="59" y="80" width="226" height="2" fill="url(#g15)"/><rect x="59" y="82" width="226" height="2" fill="url(#g16)"/><rect x="59" y="84" width="226" height="2" fill="url(#g17)"/><rect x="59" y="86" width="226" height="2" fill="url(#g18)"/><rect x="59" y="88" width="226" height="2" fill="url(#g19)"/><rect x="59" y="90" width="226" height="2" fill="url(#g20)"/><rect x="59" y="92" width="226" height="2" fill="url(#g21)"/><rect x="59" y="94" width="226" height="2" fill="url(#g22)"/><rect x="59" y="96" width="226" height="1" fill="url(#g23)"/><rect x="59" y="97" width="226" height="1" fill="url(#g24)"/><rect x="59" y="98" width="226" height="1" fill="url(#g25)"/><rect x="59" y="99" width="226" height="1" fill="url(#g26)"/><rect x="59" y="100" width="226" height="1" fill="url(#g27)"/><rect x="59" y="101" width="226" height="1" fill="url(#g28)"/><rect x="59" y="102" width="226" height="1" fill="url(#g29)"/><rect x="59" y="103" width="226" height="1" fill="url(#g30)"/><rect x="59" y="104" width="226" height="1" fill="url(#g31)"/><rect x="59" y="105" width="226" height="1" fill="url(#g32)"/><rect x="59" y="106" width="226" height="1" fill="url(#g33)"/><rect x="59" y="107" width="226" height="1" fill="url(#g34)"/><rect x="59" y="108" width="226" height="1" fill="url(#g35)"/><rect x="59" y="109" width="226" height="1" fill="url(#g36)"/><rect x="59" y="110" width="226" height="1" fill="url(#g37)"/><rect x="59" y="111" width="226" height="1" fill="url(#g38)"/><rect x="59" y="112" width="226" height="1" fill="url(#g39)"/><rect x="59" y="113" width="226" height="1" fill="url(#g40)"/><rect x="59" y="114" width="226" height="1" fill="url(#g41)"/><rect x="59" y="115" width="226" height="1" fill="url(#g42)"/><rect x="59" y="116" width="226" height="1" fill="url(#g43)"/><rect x="59" y="117" width="226" height="1" fill="url(#g44)"/><rect x="59" y="118" width="226" height="1" fill="url(#g45)"/><rect x="59" y="119" width="226" height="1" fill="url(#g46)"/><rect x="59" y="120" width="226" height="1" fill="url(#g47)"/><rect x="59" y="121" width="226" height="1" fill="url(#g48)"/><rect x="59" y="122" width="226" height="1" fill="url(#g49)"/><rect x="59" y="123" width="226" height="1" fill="url(#g50)"/><rect x="59" y="124" width="226" height="1" fill="url(#g51)"/><rect x="59" y="125" width="226" height="1" fill="url(#g52)"/><rect x="59" y="126" width="226" height="1" fill="url(#g53)"/><rect x="59" y="127" width="226" height="1" fill="url(#g54)"/><rect x="59" y="128" width="226" height="1" fill="url(#g55)"/><rect x="59" y="129" width="226" height="1" fill="url(#g56)"/><rect x="59" y="130" width="226" height="1" fill="url(#g57)"/><rect x="59" y="131" width="226" height="1" fill="url(#g58)"/><rect x="59" y="132" width="226" height="1" fill="url(#g59)"/><rect x="59" y="133" width="226" height="1" fill="url(#g60)"/><rect x="59" y="134" width="226" height="1" fill="url(#g61)"/><rect x="59" y="135" width="226" height="1" fill="url(#g62)"/><rect x="59" y="136" width="226" height="1" fill="url(#g63)"/><rect x="59" y="137" width="226" height="1" fill="url(#g64)"/><rect x="59" y="138" width="226" height="1" fill="url(#g65)"/><rect x="59" y="139" width="226" height="1" fill="url(#g66)"/><rect x="59" y="140" width="226" height="6" fill="url(#g67)"/><rect x="59" y="146" width="226" height="6" fill="url(#g68)"/><rect x="59" y="152" width="226" height="2" fill="url(#g69)"/><defs><linearGradient id="oa1" x1="59" x2="286" gradientUnits="userSpaceOnUse"><stop offset="0" stop-color="#0612a0" stop-opacity="0.9"/><stop offset="0.45" stop-color="#0612a0" stop-opacity="0.85"/><stop offset="0.6" stop-color="#0612a0" stop-opacity="0.0"/></linearGradient><linearGradient id="oa2" x1="59" x2="286" gradientUnits="userSpaceOnUse"><stop offset="0" stop-color="#b2c8a4"/><stop offset="0.4" stop-color="#a8b8b0"/><stop offset="0.6" stop-color="#70a880"/><stop offset="1" stop-color="#6a9878"/></linearGradient></defs><rect x="59" y="136.6" width="227" height="1.2" fill="url(#oa1)"/><rect x="67" y="136.7" width="15" height="1.1" fill="#000040" opacity="0.85"/><rect x="59" y="137.9" width="227" height="0.9" fill="url(#oa2)"/><rect x="196.6" y="137.9" width="7.3" height="0.9" fill="#904020"/><rect x="259" y="137.9" width="18" height="0.9" fill="#7a4a28"/><rect x="59" y="138.8" width="227" height="0.9" fill="#1060e0" opacity="0.5"/><rect x="64" y="138.9" width="20" height="0.9" fill="#001070" opacity="0.7"/><rect x="59.5" y="137.6" width="3" height="0.8" fill="#30c030"/><rect x="62.5" y="137.9" width="3" height="0.9" fill="#c04040"/></g><clipPath id="cb"><rect x="409.90" y="5.00" width="225.70" height="149.50"/></clipPath><g clip-path="url(#cb)"><rect x="409" y="4" width="227" height="4" fill="url(#g70)"/><rect x="409" y="8" width="227" height="4" fill="url(#g71)"/><rect x="409" y="12" width="227" height="4" fill="url(#g72)"/><rect x="409" y="16" width="227" height="4" fill="url(#g73)"/><rect x="409" y="20" width="227" height="4" fill="url(#g74)"/><rect x="409" y="24" width="227" height="4" fill="url(#g75)"/><rect x="409" y="28" width="227" height="4" fill="url(#g76)"/><rect x="409" y="32" width="227" height="3" fill="url(#g77)"/><rect x="409" y="35" width="227" height="3" fill="url(#g78)"/><rect x="409" y="38" width="227" height="3" fill="url(#g79)"/><rect x="409" y="41" width="227" height="3" fill="url(#g80)"/><rect x="409" y="44" width="227" height="3" fill="url(#g81)"/><rect x="409" y="47" width="227" height="2" fill="url(#g82)"/><rect x="409" y="49" width="227" height="2" fill="url(#g83)"/><rect x="409" y="51" width="227" height="2" fill="url(#g84)"/><rect x="409" y="53" width="227" height="2" fill="url(#g85)"/><rect x="409" y="55" width="227" height="2" fill="url(#g86)"/><rect x="409" y="57" width="227" height="2" fill="url(#g87)"/><rect x="409" y="59" width="227" height="2" fill="url(#g88)"/><rect x="409" y="61" width="227" height="2" fill="url(#g89)"/><rect x="409" y="63" width="227" height="2" fill="url(#g90)"/><rect x="409" y="65" width="227" height="1" fill="url(#g91)"/><rect x="409" y="66" width="227" height="1" fill="url(#g92)"/><rect x="409" y="67" width="227" height="1" fill="url(#g93)"/><rect x="409" y="68" width="227" height="1" fill="url(#g94)"/><rect x="409" y="69" width="227" height="1" fill="url(#g95)"/><rect x="409" y="70" width="227" height="1" fill="url(#g96)"/><rect x="409" y="71" width="227" height="1" fill="url(#g97)"/><rect x="409" y="72" width="227" height="1" fill="url(#g98)"/><rect x="409" y="73" width="227" height="1" fill="url(#g99)"/><rect x="409" y="74" width="227" height="1" fill="url(#g100)"/><rect x="409" y="75" width="227" height="1" fill="url(#g101)"/><rect x="409" y="76" width="227" height="1" fill="url(#g102)"/><rect x="409" y="77" width="227" height="1" fill="url(#g103)"/><rect x="409" y="78" width="227" height="1" fill="url(#g104)"/><rect x="409" y="79" width="227" height="1" fill="url(#g105)"/><rect x="409" y="80" width="227" height="1" fill="url(#g106)"/><rect x="409" y="81" width="227" height="1" fill="url(#g107)"/><rect x="409" y="82" width="227" height="1" fill="url(#g108)"/><rect x="409" y="83" width="227" height="1" fill="url(#g109)"/><rect x="409" y="84" width="227" height="1" fill="url(#g110)"/><rect x="409" y="85" width="227" height="1" fill="url(#g111)"/><rect x="409" y="86" width="227" height="1" fill="url(#g112)"/><rect x="409" y="87" width="227" height="1" fill="url(#g113)"/><rect x="409" y="88" width="227" height="1" fill="url(#g114)"/><rect x="409" y="89" width="227" height="1" fill="url(#g115)"/><rect x="409" y="90" width="227" height="1" fill="url(#g116)"/><rect x="409" y="91" width="227" height="1" fill="url(#g117)"/><rect x="409" y="92" width="227" height="1" fill="url(#g118)"/><rect x="409" y="93" width="227" height="1" fill="url(#g119)"/><rect x="409" y="94" width="227" height="1" fill="url(#g120)"/><rect x="409" y="95" width="227" height="1" fill="url(#g121)"/><rect x="409" y="96" width="227" height="1" fill="url(#g122)"/><rect x="409" y="97" width="227" height="1" fill="url(#g123)"/><rect x="409" y="98" width="227" height="1" fill="url(#g124)"/><rect x="409" y="99" width="227" height="1" fill="url(#g125)"/><rect x="409" y="100" width="227" height="1" fill="url(#g126)"/><rect x="409" y="101" width="227" height="1" fill="url(#g127)"/><rect x="409" y="102" width="227" height="1" fill="url(#g128)"/><rect x="409" y="103" width="227" height="1" fill="url(#g129)"/><rect x="409" y="104" width="227" height="1" fill="url(#g130)"/><rect x="409" y="105" width="227" height="1" fill="url(#g131)"/><rect x="409" y="106" width="227" height="1" fill="url(#g132)"/><rect x="409" y="107" width="227" height="1" fill="url(#g133)"/><rect x="409" y="108" width="227" height="1" fill="url(#g134)"/><rect x="409" y="109" width="227" height="1" fill="url(#g135)"/><rect x="409" y="110" width="227" height="1" fill="url(#g136)"/><rect x="409" y="111" width="227" height="1" fill="url(#g137)"/><rect x="409" y="112" width="227" height="1" fill="url(#g138)"/><rect x="409" y="113" width="227" height="1" fill="url(#g139)"/><rect x="409" y="114" width="227" height="1" fill="url(#g140)"/><rect x="409" y="115" width="227" height="1" fill="url(#g141)"/><rect x="409" y="116" width="227" height="1" fill="url(#g142)"/><rect x="409" y="117" width="227" height="1" fill="url(#g143)"/><rect x="409" y="118" width="227" height="1" fill="url(#g144)"/><rect x="409" y="119" width="227" height="1" fill="url(#g145)"/><rect x="409" y="120" width="227" height="1" fill="url(#g146)"/><rect x="409" y="121" width="227" height="1" fill="url(#g147)"/><rect x="409" y="122" width="227" height="1" fill="url(#g148)"/><rect x="409" y="123" width="227" height="1" fill="url(#g149)"/><rect x="409" y="124" width="227" height="1" fill="url(#g150)"/><rect x="409" y="125" width="227" height="1" fill="url(#g151)"/><rect x="409" y="126" width="227" height="1" fill="url(#g152)"/><rect x="409" y="127" width="227" height="1" fill="url(#g153)"/><rect x="409" y="128" width="227" height="1" fill="url(#g154)"/><rect x="409" y="129" width="227" height="1" fill="url(#g155)"/><rect x="409" y="130" width="227" height="1" fill="url(#g156)"/><rect x="409" y="131" width="227" height="1" fill="url(#g157)"/><rect x="409" y="132" width="227" height="1" fill="url(#g158)"/><rect x="409" y="133" width="227" height="1" fill="url(#g159)"/><rect x="409" y="134" width="227" height="1" fill="url(#g160)"/><rect x="409" y="135" width="227" height="2" fill="url(#g161)"/><rect x="409" y="137" width="227" height="1" fill="url(#g162)"/><rect x="409" y="138" width="227" height="2" fill="url(#g163)"/><rect x="409" y="140" width="227" height="2" fill="url(#g164)"/><rect x="409" y="142" width="227" height="2" fill="url(#g165)"/><rect x="409" y="144" width="227" height="6" fill="url(#g166)"/><rect x="409" y="150" width="227" height="1" fill="url(#g167)"/><rect x="409" y="151" width="227" height="1" fill="url(#g168)"/><rect x="409" y="152" width="227" height="1" fill="url(#g169)"/><rect x="409" y="153" width="227" height="1" fill="url(#g170)"/><rect x="409" y="154" width="227" height="1" fill="url(#g171)"/><path d="M500 133.4 L636 133.9" stroke="#0030d0" stroke-width="1.0" fill="none" opacity="0.8"/><path d="M415 131.5 L500 131.9" stroke="#2050e0" stroke-width="0.9" fill="none" opacity="0.7"/><path d="M409 132.6 L470 132.8 L490 133.0" stroke="#060612" stroke-width="2.0" fill="none"/><path d="M488 133.0 L506 133.3" stroke="#060612" stroke-width="1.3" fill="none" opacity="0.9"/><path d="M440 132.7 L460 132.8" stroke="#402010" stroke-width="1.4" fill="none" opacity="0.8"/><ellipse cx="429" cy="135.6" rx="15" ry="1.0" fill="#000640" opacity="0.95"/><path d="M432 136.8 L520 136.5" stroke="#40d0ff" stroke-width="1.0" fill="none" opacity="0.6"/><path d="M520 136.2 L636 136.2" stroke="#30b8ff" stroke-width="1.0" fill="none" opacity="0.5"/><path d="M585 134.0 L636 134.1" stroke="#001880" stroke-width="1.2" fill="none" opacity="0.8"/><path d="M608 133.8 L621 133.8" stroke="#000010" stroke-width="1.4" fill="none"/><rect x="410" y="6.0" width="226" height="0.8" fill="#b0e0ff" opacity="0.7"/></g><rect x="59.30" y="3.20" width="225.60" height="150.40" fill="none" stroke="#000" stroke-width="1.60"/><line x1="53.30" y1="18.11" x2="59.30" y2="18.11" stroke="#000" stroke-width="1.60"/><text x="48.30" y="21.81" font-size="12" text-anchor="end">4000</text><line x1="53.30" y1="48.27" x2="59.30" y2="48.27" stroke="#000" stroke-width="1.60"/><text x="48.30" y="51.97" font-size="12" text-anchor="end">3000</text><line x1="53.30" y1="78.43" x2="59.30" y2="78.43" stroke="#000" stroke-width="1.60"/><text x="48.30" y="82.13" font-size="12" text-anchor="end">2000</text><line x1="53.30" y1="108.59" x2="59.30" y2="108.59" stroke="#000" stroke-width="1.60"/><text x="48.30" y="112.29" font-size="12" text-anchor="end">1000</text><line x1="53.30" y1="138.75" x2="59.30" y2="138.75" stroke="#000" stroke-width="1.60"/><text x="48.30" y="142.45" font-size="12" text-anchor="end">0</text><line x1="56.10" y1="33.19" x2="59.30" y2="33.19" stroke="#000" stroke-width="1.60"/><line x1="56.10" y1="63.35" x2="59.30" y2="63.35" stroke="#000" stroke-width="1.60"/><line x1="56.10" y1="93.51" x2="59.30" y2="93.51" stroke="#000" stroke-width="1.60"/><line x1="56.10" y1="123.67" x2="59.30" y2="123.67" stroke="#000" stroke-width="1.60"/><line x1="56.10" y1="3.20" x2="59.30" y2="3.20" stroke="#000" stroke-width="1.60"/><line x1="56.10" y1="153.60" x2="59.30" y2="153.60" stroke="#000" stroke-width="1.60"/><line x1="59.20" y1="153.60" x2="59.20" y2="159.60" stroke="#000" stroke-width="1.60"/><text x="59.20" y="173.60" font-size="12" text-anchor="middle">600</text><line x1="96.80" y1="153.60" x2="96.80" y2="159.60" stroke="#000" stroke-width="1.60"/><text x="96.80" y="173.60" font-size="12" text-anchor="middle">650</text><line x1="134.40" y1="153.60" x2="134.40" y2="159.60" stroke="#000" stroke-width="1.60"/><text x="134.40" y="173.60" font-size="12" text-anchor="middle">700</text><line x1="172.00" y1="153.60" x2="172.00" y2="159.60" stroke="#000" stroke-width="1.60"/><text x="172.00" y="173.60" font-size="12" text-anchor="middle">750</text><line x1="209.60" y1="153.60" x2="209.60" y2="159.60" stroke="#000" stroke-width="1.60"/><text x="209.60" y="173.60" font-size="12" text-anchor="middle">800</text><line x1="247.20" y1="153.60" x2="247.20" y2="159.60" stroke="#000" stroke-width="1.60"/><text x="247.20" y="173.60" font-size="12" text-anchor="middle">850</text><line x1="284.80" y1="153.60" x2="284.80" y2="159.60" stroke="#000" stroke-width="1.60"/><text x="284.80" y="173.60" font-size="12" text-anchor="middle">900</text><line x1="78.00" y1="153.60" x2="78.00" y2="156.80" stroke="#000" stroke-width="1.60"/><line x1="115.60" y1="153.60" x2="115.60" y2="156.80" stroke="#000" stroke-width="1.60"/><line x1="153.20" y1="153.60" x2="153.20" y2="156.80" stroke="#000" stroke-width="1.60"/><line x1="190.80" y1="153.60" x2="190.80" y2="156.80" stroke="#000" stroke-width="1.60"/><line x1="228.40" y1="153.60" x2="228.40" y2="156.80" stroke="#000" stroke-width="1.60"/><line x1="266.00" y1="153.60" x2="266.00" y2="156.80" stroke="#000" stroke-width="1.60"/><text x="172.00" y="190.90" font-size="14" text-anchor="middle">Wavelength (nm)</text><text x="0.00" y="0.00" font-size="14.3" text-anchor="middle" transform="translate(12.7,78.8) rotate(-90)">Time delay (fs)</text><text x="-0.60" y="9.20" font-size="14" text-anchor="start" font-weight="bold">a</text><rect x="409.80" y="5.00" width="226.00" height="149.60" fill="none" stroke="#000" stroke-width="1.60"/><line x1="403.80" y1="4.90" x2="409.80" y2="4.90" stroke="#000" stroke-width="1.60"/><text x="399.20" y="8.60" font-size="12" text-anchor="end">1500</text><line x1="403.80" y1="47.70" x2="409.80" y2="47.70" stroke="#000" stroke-width="1.60"/><text x="399.20" y="51.40" font-size="12" text-anchor="end">1000</text><line x1="403.80" y1="90.50" x2="409.80" y2="90.50" stroke="#000" stroke-width="1.60"/><text x="399.20" y="94.20" font-size="12" text-anchor="end">500</text><line x1="403.80" y1="133.30" x2="409.80" y2="133.30" stroke="#000" stroke-width="1.60"/><text x="399.20" y="137.00" font-size="12" text-anchor="end">0</text><line x1="406.60" y1="26.30" x2="409.80" y2="26.30" stroke="#000" stroke-width="1.60"/><line x1="406.60" y1="69.10" x2="409.80" y2="69.10" stroke="#000" stroke-width="1.60"/><line x1="406.60" y1="111.90" x2="409.80" y2="111.90" stroke="#000" stroke-width="1.60"/><line x1="406.60" y1="154.60" x2="409.80" y2="154.60" stroke="#000" stroke-width="1.60"/><line x1="428.71" y1="154.60" x2="428.71" y2="160.60" stroke="#000" stroke-width="1.60"/><text x="428.71" y="175.20" font-size="12" text-anchor="middle">1100</text><line x1="466.33" y1="154.60" x2="466.33" y2="160.60" stroke="#000" stroke-width="1.60"/><text x="466.33" y="175.20" font-size="12" text-anchor="middle">1200</text><line x1="503.95" y1="154.60" x2="503.95" y2="160.60" stroke="#000" stroke-width="1.60"/><text x="503.95" y="175.20" font-size="12" text-anchor="middle">1300</text><line x1="541.57" y1="154.60" x2="541.57" y2="160.60" stroke="#000" stroke-width="1.60"/><text x="541.57" y="175.20" font-size="12" text-anchor="middle">1400</text><line x1="579.19" y1="154.60" x2="579.19" y2="160.60" stroke="#000" stroke-width="1.60"/><text x="579.19" y="175.20" font-size="12" text-anchor="middle">1500</text><line x1="616.81" y1="154.60" x2="616.81" y2="160.60" stroke="#000" stroke-width="1.60"/><text x="616.81" y="175.20" font-size="12" text-anchor="middle">1600</text><line x1="409.90" y1="154.60" x2="409.90" y2="157.80" stroke="#000" stroke-width="1.60"/><line x1="447.52" y1="154.60" x2="447.52" y2="157.80" stroke="#000" stroke-width="1.60"/><line x1="485.14" y1="154.60" x2="485.14" y2="157.80" stroke="#000" stroke-width="1.60"/><line x1="522.76" y1="154.60" x2="522.76" y2="157.80" stroke="#000" stroke-width="1.60"/><line x1="560.38" y1="154.60" x2="560.38" y2="157.80" stroke="#000" stroke-width="1.60"/><line x1="598.00" y1="154.60" x2="598.00" y2="157.80" stroke="#000" stroke-width="1.60"/><line x1="635.62" y1="154.60" x2="635.62" y2="157.80" stroke="#000" stroke-width="1.60"/><text x="522.80" y="192.90" font-size="14" text-anchor="middle">Wavelength (nm)</text><text x="0.00" y="0.00" font-size="14.3" text-anchor="middle" transform="translate(364.6,79.7) rotate(-90)">Time delay (fs)</text><text x="350.30" y="10.60" font-size="14" text-anchor="start" font-weight="bold">b</text><rect x="59.20" y="210.00" width="225.50" height="150.00" fill="none" stroke="#000" stroke-width="1.60"/><line x1="53.20" y1="222.50" x2="59.20" y2="222.50" stroke="#000" stroke-width="1.60"/><text x="47.90" y="226.20" font-size="12" text-anchor="end">1.0</text><line x1="53.20" y1="247.46" x2="59.20" y2="247.46" stroke="#000" stroke-width="1.60"/><text x="47.90" y="251.16" font-size="12" text-anchor="end">0.8</text><line x1="53.20" y1="272.42" x2="59.20" y2="272.42" stroke="#000" stroke-width="1.60"/><text x="47.90" y="276.12" font-size="12" text-anchor="end">0.6</text><line x1="53.20" y1="297.38" x2="59.20" y2="297.38" stroke="#000" stroke-width="1.60"/><text x="47.90" y="301.08" font-size="12" text-anchor="end">0.4</text><line x1="53.20" y1="322.34" x2="59.20" y2="322.34" stroke="#000" stroke-width="1.60"/><text x="47.90" y="326.04" font-size="12" text-anchor="end">0.2</text><line x1="53.20" y1="347.30" x2="59.20" y2="347.30" stroke="#000" stroke-width="1.60"/><text x="47.90" y="351.00" font-size="12" text-anchor="end">0.0</text><line x1="56.00" y1="234.98" x2="59.20" y2="234.98" stroke="#000" stroke-width="1.60"/><line x1="56.00" y1="259.94" x2="59.20" y2="259.94" stroke="#000" stroke-width="1.60"/><line x1="56.00" y1="284.90" x2="59.20" y2="284.90" stroke="#000" stroke-width="1.60"/><line x1="56.00" y1="309.86" x2="59.20" y2="309.86" stroke="#000" stroke-width="1.60"/><line x1="56.00" y1="334.82" x2="59.20" y2="334.82" stroke="#000" stroke-width="1.60"/><line x1="56.00" y1="359.78" x2="59.20" y2="359.78" stroke="#000" stroke-width="1.60"/><line x1="56.00" y1="210.02" x2="59.20" y2="210.02" stroke="#000" stroke-width="1.60"/><line x1="82.53" y1="360.00" x2="82.53" y2="366.00" stroke="#000" stroke-width="1.60"/><text x="82.53" y="380.90" font-size="12" text-anchor="middle">200</text><line x1="113.62" y1="360.00" x2="113.62" y2="366.00" stroke="#000" stroke-width="1.60"/><text x="113.62" y="380.90" font-size="12" text-anchor="middle">400</text><line x1="144.73" y1="360.00" x2="144.73" y2="366.00" stroke="#000" stroke-width="1.60"/><text x="144.73" y="380.90" font-size="12" text-anchor="middle">600</text><line x1="175.82" y1="360.00" x2="175.82" y2="366.00" stroke="#000" stroke-width="1.60"/><text x="175.82" y="380.90" font-size="12" text-anchor="middle">800</text><line x1="206.93" y1="360.00" x2="206.93" y2="366.00" stroke="#000" stroke-width="1.60"/><text x="206.93" y="380.90" font-size="12" text-anchor="middle">1000</text><line x1="238.02" y1="360.00" x2="238.02" y2="366.00" stroke="#000" stroke-width="1.60"/><text x="238.02" y="380.90" font-size="12" text-anchor="middle">1200</text><line x1="269.12" y1="360.00" x2="269.12" y2="366.00" stroke="#000" stroke-width="1.60"/><text x="269.12" y="380.90" font-size="12" text-anchor="middle">1400</text><line x1="66.98" y1="360.00" x2="66.98" y2="363.20" stroke="#000" stroke-width="1.60"/><line x1="98.08" y1="360.00" x2="98.08" y2="363.20" stroke="#000" stroke-width="1.60"/><line x1="129.18" y1="360.00" x2="129.18" y2="363.20" stroke="#000" stroke-width="1.60"/><line x1="160.28" y1="360.00" x2="160.28" y2="363.20" stroke="#000" stroke-width="1.60"/><line x1="191.38" y1="360.00" x2="191.38" y2="363.20" stroke="#000" stroke-width="1.60"/><line x1="222.48" y1="360.00" x2="222.48" y2="363.20" stroke="#000" stroke-width="1.60"/><line x1="253.57" y1="360.00" x2="253.57" y2="363.20" stroke="#000" stroke-width="1.60"/><line x1="284.68" y1="360.00" x2="284.68" y2="363.20" stroke="#000" stroke-width="1.60"/><text x="172.25" y="398.00" font-size="14.15" text-anchor="middle">Time delay (fs)</text><text x="0.00" y="0.00" font-size="14" text-anchor="middle" transform="translate(23.0,285.2) rotate(-90)">&#916;<tspan font-style="italic">A</tspan> (norm.)</text><text x="-0.60" y="215.80" font-size="14" text-anchor="start" font-weight="bold">c</text><line x1="207.7" y1="258.3" x2="233.0" y2="258.3" stroke="#ec3e44" stroke-width="1.4" stroke-dasharray="3.5 3.3"/><line x1="207.7" y1="277.2" x2="233.0" y2="277.2" stroke="#2170dc" stroke-width="1.4" stroke-dasharray="3.5 3.3"/><text x="238.60" y="263.90" font-size="14" text-anchor="start">H<tspan font-size="10" dy="3.2">2</tspan><tspan dy="-3.2">O</tspan></text><text x="238.60" y="282.80" font-size="14" text-anchor="start">D<tspan font-size="10" dy="3.2">2</tspan><tspan dy="-3.2">O</tspan></text><rect x="409.70" y="210.00" width="225.80" height="150.00" fill="none" stroke="#000" stroke-width="1.60"/><line x1="403.70" y1="222.50" x2="409.70" y2="222.50" stroke="#000" stroke-width="1.60"/><text x="398.40" y="226.20" font-size="12" text-anchor="end">1.0</text><line x1="403.70" y1="247.46" x2="409.70" y2="247.46" stroke="#000" stroke-width="1.60"/><text x="398.40" y="251.16" font-size="12" text-anchor="end">0.8</text><line x1="403.70" y1="272.42" x2="409.70" y2="272.42" stroke="#000" stroke-width="1.60"/><text x="398.40" y="276.12" font-size="12" text-anchor="end">0.6</text><line x1="403.70" y1="297.38" x2="409.70" y2="297.38" stroke="#000" stroke-width="1.60"/><text x="398.40" y="301.08" font-size="12" text-anchor="end">0.4</text><line x1="403.70" y1="322.34" x2="409.70" y2="322.34" stroke="#000" stroke-width="1.60"/><text x="398.40" y="326.04" font-size="12" text-anchor="end">0.2</text><line x1="403.70" y1="347.30" x2="409.70" y2="347.30" stroke="#000" stroke-width="1.60"/><text x="398.40" y="351.00" font-size="12" text-anchor="end">0.0</text><line x1="406.50" y1="234.98" x2="409.70" y2="234.98" stroke="#000" stroke-width="1.60"/><line x1="406.50" y1="259.94" x2="409.70" y2="259.94" stroke="#000" stroke-width="1.60"/><line x1="406.50" y1="284.90" x2="409.70" y2="284.90" stroke="#000" stroke-width="1.60"/><line x1="406.50" y1="309.86" x2="409.70" y2="309.86" stroke="#000" stroke-width="1.60"/><line x1="406.50" y1="334.82" x2="409.70" y2="334.82" stroke="#000" stroke-width="1.60"/><line x1="406.50" y1="359.78" x2="409.70" y2="359.78" stroke="#000" stroke-width="1.60"/><line x1="406.50" y1="210.02" x2="409.70" y2="210.02" stroke="#000" stroke-width="1.60"/><line x1="433.02" y1="360.00" x2="433.02" y2="366.00" stroke="#000" stroke-width="1.60"/><text x="433.02" y="380.90" font-size="12" text-anchor="middle">200</text><line x1="464.12" y1="360.00" x2="464.12" y2="366.00" stroke="#000" stroke-width="1.60"/><text x="464.12" y="380.90" font-size="12" text-anchor="middle">400</text><line x1="495.23" y1="360.00" x2="495.23" y2="366.00" stroke="#000" stroke-width="1.60"/><text x="495.23" y="380.90" font-size="12" text-anchor="middle">600</text><line x1="526.33" y1="360.00" x2="526.33" y2="366.00" stroke="#000" stroke-width="1.60"/><text x="526.33" y="380.90" font-size="12" text-anchor="middle">800</text><line x1="557.42" y1="360.00" x2="557.42" y2="366.00" stroke="#000" stroke-width="1.60"/><text x="557.42" y="380.90" font-size="12" text-anchor="middle">1000</text><line x1="588.52" y1="360.00" x2="588.52" y2="366.00" stroke="#000" stroke-width="1.60"/><text x="588.52" y="380.90" font-size="12" text-anchor="middle">1200</text><line x1="619.62" y1="360.00" x2="619.62" y2="366.00" stroke="#000" stroke-width="1.60"/><text x="619.62" y="380.90" font-size="12" text-anchor="middle">1400</text><line x1="417.47" y1="360.00" x2="417.47" y2="363.20" stroke="#000" stroke-width="1.60"/><line x1="448.57" y1="360.00" x2="448.57" y2="363.20" stroke="#000" stroke-width="1.60"/><line x1="479.67" y1="360.00" x2="479.67" y2="363.20" stroke="#000" stroke-width="1.60"/><line x1="510.77" y1="360.00" x2="510.77" y2="363.20" stroke="#000" stroke-width="1.60"/><line x1="541.88" y1="360.00" x2="541.88" y2="363.20" stroke="#000" stroke-width="1.60"/><line x1="572.98" y1="360.00" x2="572.98" y2="363.20" stroke="#000" stroke-width="1.60"/><line x1="604.08" y1="360.00" x2="604.08" y2="363.20" stroke="#000" stroke-width="1.60"/><line x1="635.17" y1="360.00" x2="635.17" y2="363.20" stroke="#000" stroke-width="1.60"/><text x="522.90" y="398.00" font-size="14.15" text-anchor="middle">Time delay (fs)</text><text x="0.00" y="0.00" font-size="14" text-anchor="middle" transform="translate(374.3,285.2) rotate(-90)">&#916;<tspan font-style="italic">A</tspan> (norm.)</text><text x="350.30" y="215.80" font-size="14" text-anchor="start" font-weight="bold">d</text><line x1="558.5" y1="258.3" x2="583.8" y2="258.3" stroke="#ec3e44" stroke-width="1.4" stroke-dasharray="3.5 3.3"/><line x1="558.5" y1="277.2" x2="583.8" y2="277.2" stroke="#2170dc" stroke-width="1.4" stroke-dasharray="3.5 3.3"/><text x="589.40" y="263.90" font-size="14" text-anchor="start">H<tspan font-size="10" dy="3.2">2</tspan><tspan dy="-3.2">O</tspan></text><text x="589.40" y="282.80" font-size="14" text-anchor="start">D<tspan font-size="10" dy="3.2">2</tspan><tspan dy="-3.2">O</tspan></text><clipPath id="cc"><rect x="59.2" y="210" width="225.5" height="150"/></clipPath><g clip-path="url(#cc)"><path d="M59.6 340 L60.5 336 L61.3 330 L61.8 318 L62.2 330 L62.6 338 L63.2 334 L64 342 L64.8 336 L65.8 341 L67 338 L68.5 340 L70 335 L72 339" stroke="#ec3e44" stroke-width="1.3" fill="none"/><path d="M59.5 353 L60.0 345 L60.3 325 L60.7 340 L61.5 335 L62.5 330 L63.3 337 L64.2 331 L65.3 338 L66.5 333 L68 336 L70 334" stroke="#2170dc" stroke-width="1.3" fill="none"/><path d="M65.42 337.94 L65.97 337.32 L66.52 336.72 L67.07 336.14 L67.62 335.61 L68.17 335.11 L68.72 334.68 L69.27 334.28 L69.82 333.92 L70.37 333.59 L70.92 333.27 L71.46 332.97 L72.01 332.68 L72.56 332.38 L73.11 332.08 L73.66 331.76 L74.21 331.43 L74.76 331.07 L75.31 330.69 L75.86 330.29 L76.41 329.89 L76.96 329.48 L77.51 329.05 L78.06 328.62 L78.61 328.18 L79.16 327.73 L79.71 327.28 L80.26 326.81 L80.81 326.34 L81.36 325.87 L81.91 325.39 L82.45 324.90 L83.00 324.40 L83.55 323.89 L84.10 323.37 L84.65 322.83 L85.20 322.29 L85.75 321.73 L86.30 321.17 L86.85 320.60 L87.40 320.03 L87.95 319.45 L88.50 318.87 L89.05 318.29 L89.60 317.71 L90.15 317.12 L90.70 316.55 L91.25 315.97 L91.80 315.40 L92.35 314.83 L92.90 314.28 L93.45 313.72 L93.99 313.17 L94.54 312.62 L95.09 312.07 L95.64 311.52 L96.19 310.98 L96.74 310.43 L97.29 309.88 L97.84 309.34 L98.39 308.79 L98.94 308.25 L99.49 307.70 L100.04 307.16 L100.59 306.61 L101.14 306.07 L101.69 305.53 L102.24 304.98 L102.79 304.44 L103.34 303.90 L103.89 303.36 L104.44 302.82 L104.98 302.27 L105.53 301.73 L106.08 301.19 L106.63 300.65 L107.18 300.11 L107.73 299.56 L108.28 299.02 L108.83 298.48 L109.38 297.93 L109.93 297.39 L110.48 296.85 L111.03 296.30 L111.58 295.76 L112.13 295.22 L112.68 294.67 L113.23 294.13 L113.78 293.59 L114.33 293.05 L114.88 292.51 L115.43 291.97 L115.98 291.43 L116.52 290.89 L117.07 290.36 L117.62 289.82 L118.17 289.29 L118.72 288.75 L119.27 288.22 L119.82 287.69 L120.37 287.16 L120.92 286.64 L121.47 286.10 L122.02 285.56 L122.57 285.02 L123.12 284.46 L123.67 283.91 L124.22 283.35 L124.77 282.79 L125.32 282.23 L125.87 281.67 L126.42 281.11 L126.97 280.56 L127.51 280.01 L128.06 279.46 L128.61 278.92 L129.16 278.39 L129.71 277.87 L130.26 277.36 L130.81 276.85 L131.36 276.36 L131.91 275.89 L132.46 275.43 L133.01 274.98 L133.56 274.55 L134.11 274.14 L134.66 273.75 L135.21 273.37 L135.76 273.02 L136.31 272.67 L136.86 272.34 L137.41 272.02 L137.96 271.71 L138.50 271.41 L139.05 271.11 L139.60 270.82 L140.15 270.54 L140.70 270.25 L141.25 269.97 L141.80 269.69 L142.35 269.41 L142.90 269.12 L143.45 268.83 L144.00 268.54 L144.55 268.24 L145.10 267.93 L145.65 267.62 L146.20 267.30 L146.75 266.99 L147.30 266.67 L147.85 266.35 L148.40 266.04 L148.95 265.72 L149.50 265.40 L150.04 265.08 L150.59 264.76 L151.14 264.44 L151.69 264.12 L152.24 263.80 L152.79 263.48 L153.34 263.15 L153.89 262.83 L154.44 262.51 L154.99 262.19 L155.54 261.87 L156.09 261.55 L156.64 261.23 L157.19 260.91 L157.74 260.60 L158.29 260.28 L158.84 259.96 L159.39 259.65 L159.94 259.33 L160.49 259.02 L161.03 258.70 L161.58 258.39 L162.13 258.07 L162.68 257.76 L163.23 257.44 L163.78 257.13 L164.33 256.81 L164.88 256.49 L165.43 256.18 L165.98 255.86 L166.53 255.55 L167.08 255.23 L167.63 254.92 L168.18 254.61 L168.73 254.29 L169.28 253.98 L169.83 253.67 L170.38 253.36 L170.93 253.05 L171.48 252.75 L172.03 252.44 L172.57 252.14 L173.12 251.83 L173.67 251.53 L174.22 251.23 L174.77 250.93 L175.32 250.64 L175.87 250.34 L176.42 250.05 L176.97 249.76 L177.52 249.47 L178.07 249.18 L178.62 248.88 L179.17 248.59 L179.72 248.30 L180.27 248.00 L180.82 247.71 L181.37 247.42 L181.92 247.13 L182.47 246.84 L183.02 246.55 L183.56 246.26 L184.11 245.97 L184.66 245.68 L185.21 245.40 L185.76 245.12 L186.31 244.84 L186.86 244.56 L187.41 244.29 L187.96 244.02 L188.51 243.75 L189.06 243.48 L189.61 243.22 L190.16 242.97 L190.71 242.71 L191.26 242.46 L191.81 242.22 L192.36 241.98 L192.91 241.74 L193.46 241.51 L194.01 241.29 L194.56 241.07 L195.10 240.85 L195.65 240.64 L196.20 240.43 L196.75 240.23 L197.30 240.02 L197.85 239.83 L198.40 239.63 L198.95 239.44 L199.50 239.25 L200.05 239.06 L200.60 238.87 L201.15 238.69 L201.70 238.51 L202.25 238.33 L202.80 238.15 L203.35 237.97 L203.90 237.80 L204.45 237.63 L205.00 237.45 L205.55 237.28 L206.09 237.11 L206.64 236.94 L207.19 236.77 L207.74 236.60 L208.29 236.43 L208.84 236.26 L209.39 236.09 L209.94 235.92 L210.49 235.76 L211.04 235.59 L211.59 235.42 L212.14 235.26 L212.69 235.10 L213.24 234.93 L213.79 234.77 L214.34 234.61 L214.89 234.46 L215.44 234.30 L215.99 234.15 L216.54 233.99 L217.09 233.84 L217.63 233.69 L218.18 233.55 L218.73 233.40 L219.28 233.26 L219.83 233.12 L220.38 232.98 L220.93 232.85 L221.48 232.72 L222.03 232.59 L222.58 232.46 L223.13 232.34 L223.68 232.21 L224.23 232.09 L224.78 231.96 L225.33 231.84 L225.88 231.72 L226.43 231.60 L226.98 231.48 L227.53 231.36 L228.08 231.25 L228.62 231.13 L229.17 231.01 L229.72 230.90 L230.27 230.79 L230.82 230.67 L231.37 230.56 L231.92 230.45 L232.47 230.35 L233.02 230.24 L233.57 230.13 L234.12 230.03 L234.67 229.93 L235.22 229.83 L235.77 229.73 L236.32 229.63 L236.87 229.53 L237.42 229.44 L237.97 229.34 L238.52 229.25 L239.07 229.16 L239.62 229.07 L240.16 228.99 L240.71 228.90 L241.26 228.82 L241.81 228.74 L242.36 228.66 L242.91 228.59 L243.46 228.51 L244.01 228.44 L244.56 228.37 L245.11 228.31 L245.66 228.24 L246.21 228.18 L246.76 228.12 L247.31 228.07 L247.86 228.01 L248.41 227.96 L248.96 227.91 L249.51 227.87 L250.06 227.82 L250.61 227.77 L251.15 227.73 L251.70 227.69 L252.25 227.64 L252.80 227.60 L253.35 227.56 L253.90 227.52 L254.45 227.48 L255.00 227.44 L255.55 227.40 L256.10 227.36 L256.65 227.32 L257.20 227.28 L257.75 227.23 L258.30 227.19 L258.85 227.14 L259.40 227.10 L259.95 227.05 L260.50 227.00 L261.05 226.95 L261.60 226.90 L262.15 226.84 L262.69 226.78 L263.24 226.72 L263.79 226.66 L264.34 226.60 L264.89 226.53 L265.44 226.46 L265.99 226.38 L266.54 226.30 L267.09 226.22 L267.64 226.14 L268.19 226.05 L268.74 225.95 L269.29 225.81 L269.84 225.64 L270.39 225.43 L270.94 225.20 L271.49 224.95 L272.04 224.70 L272.59 224.43 L273.14 224.18 L273.68 223.93 L274.23 223.71 L274.78 223.51 L275.33 223.35 L275.88 223.22 L276.43 223.15 L276.98 223.12 L277.53 223.14 L278.08 223.18 L278.63 223.25 L279.18 223.34 L279.73 223.46 L280.28 223.60 L280.83 223.76 L281.38 223.95 L281.93 224.17 L282.48 224.41 L283.03 224.68 L283.58 224.97 L284.13 225.28 L284.68 225.62" stroke="#ec3e44" stroke-width="1.5" fill="none" stroke-dasharray="3.6 3.0"/><path d="M63.09 335.44 L63.64 335.43 L64.20 335.38 L64.75 335.30 L65.31 335.20 L65.86 335.08 L66.42 334.95 L66.98 334.82 L67.53 334.65 L68.09 334.42 L68.64 334.13 L69.20 333.79 L69.75 333.41 L70.31 332.99 L70.86 332.55 L71.42 332.08 L71.97 331.60 L72.53 331.11 L73.08 330.62 L73.64 330.13 L74.19 329.66 L74.75 329.20 L75.31 328.75 L75.86 328.29 L76.42 327.81 L76.97 327.33 L77.53 326.83 L78.08 326.33 L78.64 325.82 L79.19 325.32 L79.75 324.81 L80.30 324.30 L80.86 323.80 L81.41 323.30 L81.97 322.82 L82.53 322.34 L83.08 321.87 L83.64 321.39 L84.19 320.91 L84.75 320.43 L85.30 319.94 L85.86 319.46 L86.41 318.98 L86.97 318.51 L87.52 318.03 L88.08 317.57 L88.63 317.10 L89.19 316.65 L89.74 316.20 L90.30 315.77 L90.86 315.34 L91.41 314.93 L91.97 314.53 L92.52 314.14 L93.08 313.77 L93.63 313.41 L94.19 313.08 L94.74 312.76 L95.30 312.46 L95.85 312.16 L96.41 311.87 L96.96 311.57 L97.52 311.28 L98.08 310.98 L98.63 310.66 L99.19 310.33 L99.74 309.99 L100.30 309.62 L100.85 309.24 L101.41 308.84 L101.96 308.43 L102.52 308.01 L103.07 307.58 L103.63 307.14 L104.18 306.70 L104.74 306.26 L105.29 305.81 L105.85 305.36 L106.41 304.92 L106.96 304.48 L107.52 304.04 L108.07 303.61 L108.63 303.18 L109.18 302.75 L109.74 302.31 L110.29 301.88 L110.85 301.44 L111.40 300.99 L111.96 300.54 L112.51 300.08 L113.07 299.62 L113.62 299.14 L114.18 298.65 L114.74 298.15 L115.29 297.63 L115.85 297.08 L116.40 296.51 L116.96 295.93 L117.51 295.33 L118.07 294.72 L118.62 294.10 L119.18 293.49 L119.73 292.88 L120.29 292.28 L120.84 291.69 L121.40 291.11 L121.96 290.53 L122.51 289.95 L123.07 289.37 L123.62 288.79 L124.18 288.21 L124.73 287.63 L125.29 287.06 L125.84 286.49 L126.40 285.92 L126.95 285.35 L127.51 284.79 L128.06 284.24 L128.62 283.69 L129.18 283.15 L129.73 282.62 L130.29 282.09 L130.84 281.56 L131.40 281.03 L131.95 280.50 L132.51 279.97 L133.06 279.44 L133.62 278.92 L134.17 278.39 L134.73 277.87 L135.28 277.35 L135.84 276.83 L136.39 276.32 L136.95 275.81 L137.51 275.30 L138.06 274.80 L138.62 274.31 L139.17 273.82 L139.73 273.34 L140.28 272.87 L140.84 272.41 L141.39 271.95 L141.95 271.50 L142.50 271.06 L143.06 270.63 L143.61 270.21 L144.17 269.81 L144.73 269.41 L145.28 269.02 L145.84 268.65 L146.39 268.28 L146.95 267.92 L147.50 267.57 L148.06 267.23 L148.61 266.89 L149.17 266.56 L149.72 266.24 L150.28 265.92 L150.83 265.61 L151.39 265.30 L151.94 264.99 L152.50 264.68 L153.06 264.38 L153.61 264.08 L154.17 263.78 L154.72 263.48 L155.28 263.18 L155.83 262.88 L156.39 262.58 L156.94 262.28 L157.50 261.97 L158.05 261.66 L158.61 261.35 L159.16 261.03 L159.72 260.71 L160.28 260.38 L160.83 260.05 L161.39 259.72 L161.94 259.38 L162.50 259.05 L163.05 258.71 L163.61 258.37 L164.16 258.03 L164.72 257.68 L165.27 257.34 L165.83 257.00 L166.38 256.65 L166.94 256.31 L167.49 255.97 L168.05 255.62 L168.61 255.28 L169.16 254.94 L169.72 254.60 L170.27 254.26 L170.83 253.92 L171.38 253.59 L171.94 253.25 L172.49 252.92 L173.05 252.60 L173.60 252.27 L174.16 251.95 L174.71 251.63 L175.27 251.32 L175.82 251.01 L176.38 250.70 L176.94 250.40 L177.49 250.09 L178.05 249.79 L178.60 249.48 L179.16 249.17 L179.71 248.86 L180.27 248.54 L180.82 248.23 L181.38 247.92 L181.93 247.61 L182.49 247.30 L183.04 246.99 L183.60 246.69 L184.16 246.39 L184.71 246.09 L185.27 245.79 L185.82 245.50 L186.38 245.21 L186.93 244.92 L187.49 244.65 L188.04 244.37 L188.60 244.10 L189.15 243.84 L189.71 243.59 L190.26 243.34 L190.82 243.10 L191.38 242.87 L191.93 242.65 L192.49 242.44 L193.04 242.23 L193.60 242.04 L194.15 241.85 L194.71 241.67 L195.26 241.50 L195.82 241.34 L196.37 241.17 L196.93 241.01 L197.48 240.86 L198.04 240.71 L198.59 240.56 L199.15 240.42 L199.71 240.28 L200.26 240.14 L200.82 240.01 L201.37 239.88 L201.93 239.75 L202.48 239.63 L203.04 239.51 L203.59 239.39 L204.15 239.28 L204.70 239.16 L205.26 239.05 L205.81 238.94 L206.37 238.83 L206.93 238.72 L207.48 238.62 L208.04 238.54 L208.59 238.46 L209.15 238.38 L209.70 238.32 L210.26 238.25 L210.81 238.18 L211.37 238.11 L211.92 238.03 L212.48 237.95 L213.03 237.85 L213.59 237.74 L214.14 237.62 L214.70 237.48 L215.26 237.26 L215.81 236.92 L216.37 236.48 L216.92 235.97 L217.48 235.42 L218.03 234.85 L218.59 234.28 L219.14 233.74 L219.70 233.25 L220.25 232.84 L220.81 232.53 L221.36 232.31 L221.92 232.10 L222.48 231.89 L223.03 231.69 L223.59 231.50 L224.14 231.32 L224.70 231.14 L225.25 230.97 L225.81 230.80 L226.36 230.64 L226.92 230.48 L227.47 230.33 L228.03 230.19 L228.58 230.05 L229.14 229.91 L229.69 229.78 L230.25 229.65 L230.81 229.53 L231.36 229.41 L231.92 229.30 L232.47 229.18 L233.03 229.07 L233.58 228.97 L234.14 228.86 L234.69 228.76 L235.25 228.66 L235.80 228.56 L236.36 228.46 L236.91 228.37 L237.47 228.27 L238.02 228.18 L238.58 228.09 L239.14 228.00 L239.69 227.91 L240.25 227.81 L240.80 227.72 L241.36 227.63 L241.91 227.54 L242.47 227.44 L243.02 227.35 L243.58 227.25 L244.13 227.15 L244.69 227.06 L245.24 226.96 L245.80 226.87 L246.36 226.77 L246.91 226.68 L247.47 226.59 L248.02 226.49 L248.58 226.40 L249.13 226.31 L249.69 226.22 L250.24 226.13 L250.80 226.04 L251.35 225.96 L251.91 225.87 L252.46 225.79 L253.02 225.70 L253.57 225.62 L254.13 225.53 L254.69 225.45 L255.24 225.37 L255.80 225.29 L256.35 225.21 L256.91 225.13 L257.46 225.06 L258.02 224.98 L258.57 224.91 L259.13 224.83 L259.68 224.76 L260.24 224.69 L260.79 224.62 L261.35 224.55 L261.91 224.48 L262.46 224.41 L263.02 224.34 L263.57 224.28 L264.13 224.21 L264.68 224.15 L265.24 224.09 L265.79 224.03 L266.35 223.97 L266.90 223.91 L267.46 223.85 L268.01 223.80 L268.57 223.74 L269.12 223.69 L269.68 223.63 L270.24 223.58 L270.79 223.53 L271.35 223.48 L271.90 223.43 L272.46 223.38 L273.01 223.33 L273.57 223.28 L274.12 223.23 L274.68 223.19 L275.23 223.14 L275.79 223.10 L276.34 223.05 L276.90 223.01 L277.46 222.97 L278.01 222.92 L278.57 222.88 L279.12 222.84 L279.68 222.80 L280.23 222.77 L280.79 222.73 L281.34 222.69 L281.90 222.66 L282.45 222.62 L283.01 222.59 L283.56 222.56 L284.12 222.53 L284.68 222.50" stroke="#2170dc" stroke-width="1.5" fill="none" stroke-dasharray="3.6 3.0"/><path d="M59.20 341.18 L61.09 339.00 L62.99 336.95 L64.88 335.02 L66.78 333.19 L68.67 331.44 L70.57 329.78 L72.46 328.17 L74.36 326.61 L76.25 325.09 L78.15 323.59 L80.04 322.09 L81.94 320.59 L83.83 319.07 L85.73 317.53 L87.62 315.97 L89.52 314.39 L91.41 312.80 L93.31 311.18 L95.20 309.55 L97.09 307.91 L98.99 306.25 L100.88 304.58 L102.78 302.91 L104.67 301.22 L106.57 299.53 L108.46 297.84 L110.36 296.14 L112.25 294.44 L114.15 292.74 L116.04 291.04 L117.94 289.35 L119.83 287.66 L121.73 285.98 L123.62 284.30 L125.52 282.64 L127.41 280.98 L129.31 279.34 L131.20 277.72 L133.10 276.11 L134.99 274.52 L136.88 272.94 L138.78 271.39 L140.67 269.86 L142.57 268.36 L144.46 266.88 L146.36 265.42 L148.25 264.00 L150.15 262.61 L152.04 261.25 L153.94 259.91 L155.83 258.61 L157.73 257.34 L159.62 256.10 L161.52 254.88 L163.41 253.70 L165.31 252.54 L167.20 251.42 L169.10 250.32 L170.99 249.24 L172.88 248.20 L174.78 247.18 L176.67 246.19 L178.57 245.22 L180.46 244.28 L182.36 243.37 L184.25 242.48 L186.15 241.61 L188.04 240.77 L189.94 239.96 L191.83 239.17 L193.73 238.40 L195.62 237.65 L197.52 236.93 L199.41 236.23 L201.31 235.55 L203.20 234.89 L205.10 234.26 L206.99 233.65 L208.89 233.05 L210.78 232.48 L212.67 231.93 L214.57 231.40 L216.46 230.89 L218.36 230.39 L220.25 229.92 L222.15 229.46 L224.04 229.03 L225.94 228.61 L227.83 228.20 L229.73 227.82 L231.62 227.45 L233.52 227.10 L235.41 226.76 L237.31 226.44 L239.20 226.14 L241.10 225.85 L242.99 225.58 L244.89 225.32 L246.78 225.07 L248.67 224.84 L250.57 224.62 L252.46 224.42 L254.36 224.23 L256.25 224.05 L258.15 223.88 L260.04 223.73 L261.94 223.58 L263.83 223.45 L265.73 223.33 L267.62 223.22 L269.52 223.12 L271.41 223.03 L273.31 222.95 L275.20 222.87 L277.10 222.81 L278.99 222.76 L280.89 222.71 L282.78 222.67 L284.68 222.64" stroke="#ec3e44" stroke-width="2.0" fill="none"/><path d="M59.20 337.50 L61.09 336.29 L62.99 335.06 L64.88 333.79 L66.78 332.48 L68.67 331.15 L70.57 329.78 L72.46 328.39 L74.36 326.97 L76.25 325.52 L78.15 324.05 L80.04 322.56 L81.94 321.04 L83.83 319.51 L85.73 317.95 L87.62 316.38 L89.52 314.79 L91.41 313.19 L93.31 311.58 L95.20 309.95 L97.09 308.31 L98.99 306.66 L100.88 305.00 L102.78 303.34 L104.67 301.67 L106.57 300.00 L108.46 298.33 L110.36 296.65 L112.25 294.98 L114.15 293.30 L116.04 291.63 L117.94 289.97 L119.83 288.31 L121.73 286.65 L123.62 285.01 L125.52 283.37 L127.41 281.75 L129.31 280.14 L131.20 278.54 L133.10 276.96 L134.99 275.39 L136.88 273.85 L138.78 272.32 L140.67 270.81 L142.57 269.33 L144.46 267.86 L146.36 266.43 L148.25 265.02 L150.15 263.63 L152.04 262.28 L153.94 260.95 L155.83 259.65 L157.73 258.38 L159.62 257.13 L161.52 255.92 L163.41 254.72 L165.31 253.56 L167.20 252.42 L169.10 251.30 L170.99 250.22 L172.88 249.15 L174.78 248.11 L176.67 247.10 L178.57 246.11 L180.46 245.15 L182.36 244.21 L184.25 243.29 L186.15 242.40 L188.04 241.53 L189.94 240.68 L191.83 239.86 L193.73 239.06 L195.62 238.28 L197.52 237.52 L199.41 236.79 L201.31 236.08 L203.20 235.39 L205.10 234.72 L206.99 234.07 L208.89 233.44 L210.78 232.83 L212.67 232.24 L214.57 231.68 L216.46 231.13 L218.36 230.60 L220.25 230.09 L222.15 229.60 L224.04 229.13 L225.94 228.68 L227.83 228.25 L229.73 227.83 L231.62 227.43 L233.52 227.05 L235.41 226.69 L237.31 226.34 L239.20 226.01 L241.10 225.70 L242.99 225.41 L244.89 225.13 L246.78 224.86 L248.67 224.61 L250.57 224.38 L252.46 224.17 L254.36 223.96 L256.25 223.78 L258.15 223.60 L260.04 223.44 L261.94 223.30 L263.83 223.17 L265.73 223.05 L267.62 222.95 L269.52 222.85 L271.41 222.78 L273.31 222.71 L275.20 222.66 L277.10 222.62 L278.99 222.59 L280.89 222.57 L282.78 222.56 L284.68 222.57" stroke="#2170dc" stroke-width="2.0" fill="none"/></g><clipPath id="cd"><rect x="409.7" y="210" width="225.8" height="150"/></clipPath><g clip-path="url(#cd)"><path d="M409.70 264.93 L410.45 259.03 L411.21 253.98 L411.96 249.79 L412.72 246.11 L413.47 242.89 L414.22 240.12 L414.98 237.69 L415.73 235.51 L416.49 233.46 L417.24 231.51 L418.00 229.68 L418.75 228.04 L419.50 226.58 L420.26 225.19 L421.01 224.09 L421.77 223.43 L422.52 222.90 L423.27 222.56 L424.03 222.52 L424.78 222.67 L425.54 222.93 L426.29 223.25 L427.04 223.77 L427.80 224.48 L428.55 225.31 L429.31 226.18 L430.06 227.03 L430.81 227.90 L431.57 228.85 L432.32 229.83 L433.08 230.82 L433.83 231.80 L434.59 232.74 L435.34 233.62 L436.09 234.45 L436.85 235.25 L437.60 236.03 L438.36 236.83 L439.11 237.66 L439.86 238.53 L440.62 239.47 L441.37 240.47 L442.13 241.51 L442.88 242.58 L443.63 243.66 L444.39 244.74 L445.14 245.79 L445.90 246.82 L446.65 247.86 L447.40 248.89 L448.16 249.91 L448.91 250.94 L449.67 251.97 L450.42 253.00 L451.18 254.04 L451.93 255.08 L452.68 256.12 L453.44 257.18 L454.19 258.24 L454.95 259.31 L455.70 260.40 L456.45 261.50 L457.21 262.62 L457.96 263.76 L458.72 264.90 L459.47 266.04 L460.22 267.19 L460.98 268.33 L461.73 269.46 L462.49 270.59 L463.24 271.70 L463.99 272.79 L464.75 273.86 L465.50 274.91 L466.26 275.95 L467.01 276.98 L467.77 278.00 L468.52 279.02 L469.27 280.02 L470.03 281.02 L470.78 282.01 L471.54 283.00 L472.29 283.97 L473.04 284.94 L473.80 285.90 L474.55 286.86 L475.31 287.80 L476.06 288.74 L476.81 289.68 L477.57 290.60 L478.32 291.53 L479.08 292.47 L479.83 293.41 L480.59 294.35 L481.34 295.29 L482.09 296.22 L482.85 297.14 L483.60 298.06 L484.36 298.96 L485.11 299.84 L485.86 300.70 L486.62 301.54 L487.37 302.35 L488.13 303.13 L488.88 303.88 L489.63 304.59 L490.39 305.27 L491.14 305.93 L491.90 306.58 L492.65 307.21 L493.40 307.83 L494.16 308.44 L494.91 309.03 L495.67 309.61 L496.42 310.18 L497.18 310.74 L497.93 311.29 L498.68 311.83 L499.44 312.36 L500.19 312.89 L500.95 313.40 L501.70 313.91 L502.45 314.41 L503.21 314.91 L503.96 315.40 L504.72 315.89 L505.47 316.37 L506.22 316.85 L506.98 317.33 L507.73 317.80 L508.49 318.27 L509.24 318.75 L509.99 319.22 L510.75 319.69 L511.50 320.15 L512.26 320.61 L513.01 321.07 L513.77 321.52 L514.52 321.96 L515.27 322.40 L516.03 322.84 L516.78 323.27 L517.54 323.69 L518.29 324.11 L519.04 324.52 L519.80 324.92 L520.55 325.32 L521.31 325.71 L522.06 326.09 L522.81 326.46 L523.57 326.83 L524.32 327.20 L525.08 327.57 L525.83 327.93 L526.59 328.30 L527.34 328.66 L528.09 329.02 L528.85 329.37 L529.60 329.72 L530.36 330.06 L531.11 330.40 L531.86 330.74 L532.62 331.06 L533.37 331.39 L534.13 331.70 L534.88 332.00 L535.63 332.30 L536.39 332.59 L537.14 332.86 L537.90 333.13 L538.65 333.39 L539.40 333.63 L540.16 333.87 L540.91 334.09 L541.67 334.31 L542.42 334.53 L543.18 334.73 L543.93 334.94 L544.68 335.13 L545.44 335.33 L546.19 335.52 L546.95 335.70 L547.70 335.88 L548.45 336.06 L549.21 336.23 L549.96 336.40 L550.72 336.56 L551.47 336.73 L552.22 336.89 L552.98 337.04 L553.73 337.20 L554.49 337.35 L555.24 337.51 L555.99 337.66 L556.75 337.81 L557.50 337.96 L558.26 338.10 L559.01 338.25 L559.77 338.39 L560.52 338.54 L561.27 338.68 L562.03 338.82 L562.78 338.96 L563.54 339.09 L564.29 339.23 L565.04 339.36 L565.80 339.49 L566.55 339.63 L567.31 339.75 L568.06 339.88 L568.81 340.01 L569.57 340.13 L570.32 340.26 L571.08 340.38 L571.83 340.50 L572.58 340.62 L573.34 340.73 L574.09 340.85 L574.85 340.96 L575.60 341.07 L576.36 341.18 L577.11 341.29 L577.86 341.40 L578.62 341.50 L579.37 341.60 L580.13 341.70 L580.88 341.80 L581.63 341.90 L582.39 342.00 L583.14 342.10 L583.90 342.20 L584.65 342.29 L585.40 342.39 L586.16 342.48 L586.91 342.57 L587.67 342.66 L588.42 342.76 L589.18 342.84 L589.93 342.93 L590.68 343.02 L591.44 343.10 L592.19 343.19 L592.95 343.27 L593.70 343.35 L594.45 343.43 L595.21 343.51 L595.96 343.58 L596.72 343.66 L597.47 343.73 L598.22 343.80 L598.98 343.87 L599.73 343.94 L600.49 344.00 L601.24 344.07 L601.99 344.13 L602.75 344.19 L603.50 344.26 L604.26 344.32 L605.01 344.39 L605.77 344.46 L606.52 344.52 L607.27 344.59 L608.03 344.66 L608.78 344.72 L609.54 344.79 L610.29 344.86 L611.04 344.92 L611.80 344.99 L612.55 345.05 L613.31 345.11 L614.06 345.18 L614.81 345.24 L615.57 345.30 L616.32 345.36 L617.08 345.41 L617.83 345.47 L618.58 345.52 L619.34 345.57 L620.09 345.62 L620.85 345.67 L621.60 345.72 L622.36 345.76 L623.11 345.80 L623.86 345.84 L624.62 345.87 L625.37 345.91 L626.13 345.94 L626.88 345.96 L627.63 345.99 L628.39 346.01 L629.14 346.02 L629.90 346.04 L630.65 346.05 L631.40 346.05 L632.16 346.05 L632.91 346.05 L633.67 346.05 L634.42 346.05 L635.17 346.05" stroke="#ec3e44" stroke-width="1.5" fill="none" stroke-dasharray="3.6 3.0"/><path d="M409.70 277.41 L410.45 272.94 L411.21 268.76 L411.96 264.95 L412.72 261.57 L413.47 258.65 L414.22 256.06 L414.98 253.67 L415.73 251.37 L416.49 249.01 L417.24 246.59 L418.00 244.21 L418.75 241.99 L419.50 239.99 L420.26 238.13 L421.01 236.39 L421.77 234.79 L422.52 233.31 L423.27 231.87 L424.03 230.49 L424.78 229.20 L425.54 228.00 L426.29 226.91 L427.04 225.94 L427.80 224.92 L428.55 223.98 L429.31 223.32 L430.06 223.13 L430.81 223.17 L431.57 223.27 L432.32 223.41 L433.08 223.60 L433.83 223.83 L434.59 224.09 L435.34 224.37 L436.09 224.80 L436.85 225.49 L437.60 226.35 L438.36 227.30 L439.11 228.27 L439.86 229.19 L440.62 230.02 L441.37 230.86 L442.13 231.71 L442.88 232.57 L443.63 233.43 L444.39 234.29 L445.14 235.14 L445.90 235.99 L446.65 236.82 L447.40 237.64 L448.16 238.45 L448.91 239.23 L449.67 240.01 L450.42 240.79 L451.18 241.56 L451.93 242.34 L452.68 243.13 L453.44 243.93 L454.19 244.74 L454.95 245.58 L455.70 246.45 L456.45 247.33 L457.21 248.23 L457.96 249.14 L458.72 250.07 L459.47 251.01 L460.22 251.95 L460.98 252.91 L461.73 253.87 L462.49 254.85 L463.24 255.84 L463.99 256.83 L464.75 257.83 L465.50 258.83 L466.26 259.84 L467.01 260.85 L467.77 261.86 L468.52 262.87 L469.27 263.88 L470.03 264.88 L470.78 265.90 L471.54 266.92 L472.29 267.96 L473.04 269.00 L473.80 270.04 L474.55 271.08 L475.31 272.12 L476.06 273.15 L476.81 274.17 L477.57 275.18 L478.32 276.17 L479.08 277.14 L479.83 278.09 L480.59 279.02 L481.34 279.94 L482.09 280.85 L482.85 281.74 L483.60 282.63 L484.36 283.50 L485.11 284.37 L485.86 285.22 L486.62 286.06 L487.37 286.89 L488.13 287.72 L488.88 288.53 L489.63 289.32 L490.39 290.11 L491.14 290.89 L491.90 291.65 L492.65 292.40 L493.40 293.14 L494.16 293.88 L494.91 294.60 L495.67 295.32 L496.42 296.03 L497.18 296.74 L497.93 297.44 L498.68 298.14 L499.44 298.84 L500.19 299.53 L500.95 300.22 L501.70 300.90 L502.45 301.58 L503.21 302.26 L503.96 302.93 L504.72 303.60 L505.47 304.26 L506.22 304.91 L506.98 305.56 L507.73 306.21 L508.49 306.85 L509.24 307.48 L509.99 308.11 L510.75 308.74 L511.50 309.37 L512.26 310.00 L513.01 310.63 L513.77 311.26 L514.52 311.88 L515.27 312.50 L516.03 313.12 L516.78 313.73 L517.54 314.33 L518.29 314.92 L519.04 315.50 L519.80 316.06 L520.55 316.62 L521.31 317.16 L522.06 317.68 L522.81 318.19 L523.57 318.67 L524.32 319.15 L525.08 319.60 L525.83 320.05 L526.59 320.48 L527.34 320.90 L528.09 321.31 L528.85 321.71 L529.60 322.10 L530.36 322.49 L531.11 322.88 L531.86 323.26 L532.62 323.64 L533.37 324.01 L534.13 324.37 L534.88 324.73 L535.63 325.08 L536.39 325.43 L537.14 325.76 L537.90 326.09 L538.65 326.41 L539.40 326.72 L540.16 327.02 L540.91 327.31 L541.67 327.60 L542.42 327.88 L543.18 328.17 L543.93 328.44 L544.68 328.72 L545.44 328.99 L546.19 329.25 L546.95 329.52 L547.70 329.77 L548.45 330.03 L549.21 330.28 L549.96 330.52 L550.72 330.76 L551.47 331.00 L552.22 331.23 L552.98 331.46 L553.73 331.68 L554.49 331.90 L555.24 332.11 L555.99 332.32 L556.75 332.52 L557.50 332.72 L558.26 332.91 L559.01 333.10 L559.77 333.29 L560.52 333.47 L561.27 333.65 L562.03 333.82 L562.78 333.99 L563.54 334.16 L564.29 334.33 L565.04 334.49 L565.80 334.65 L566.55 334.81 L567.31 334.97 L568.06 335.12 L568.81 335.27 L569.57 335.42 L570.32 335.57 L571.08 335.72 L571.83 335.87 L572.58 336.02 L573.34 336.16 L574.09 336.31 L574.85 336.45 L575.60 336.60 L576.36 336.74 L577.11 336.89 L577.86 337.03 L578.62 337.18 L579.37 337.32 L580.13 337.47 L580.88 337.62 L581.63 337.77 L582.39 337.92 L583.14 338.07 L583.90 338.23 L584.65 338.38 L585.40 338.53 L586.16 338.68 L586.91 338.84 L587.67 338.99 L588.42 339.14 L589.18 339.29 L589.93 339.44 L590.68 339.59 L591.44 339.73 L592.19 339.87 L592.95 340.01 L593.70 340.15 L594.45 340.29 L595.21 340.42 L595.96 340.55 L596.72 340.67 L597.47 340.79 L598.22 340.91 L598.98 341.02 L599.73 341.13 L600.49 341.23 L601.24 341.32 L601.99 341.42 L602.75 341.52 L603.50 341.61 L604.26 341.71 L605.01 341.81 L605.77 341.91 L606.52 342.00 L607.27 342.10 L608.03 342.20 L608.78 342.30 L609.54 342.39 L610.29 342.49 L611.04 342.58 L611.80 342.67 L612.55 342.77 L613.31 342.86 L614.06 342.95 L614.81 343.03 L615.57 343.12 L616.32 343.20 L617.08 343.28 L617.83 343.36 L618.58 343.44 L619.34 343.51 L620.09 343.58 L620.85 343.65 L621.60 343.71 L622.36 343.77 L623.11 343.83 L623.86 343.88 L624.62 343.93 L625.37 343.98 L626.13 344.02 L626.88 344.06 L627.63 344.09 L628.39 344.12 L629.14 344.14 L629.90 344.16 L630.65 344.17 L631.40 344.18 L632.16 344.18 L632.91 344.18 L633.67 344.18 L634.42 344.18 L635.17 344.18" stroke="#2170dc" stroke-width="1.5" fill="none" stroke-dasharray="3.6 3.0"/><path d="M409.70 261.11 L411.59 250.06 L413.49 241.89 L415.38 235.85 L417.28 231.23 L419.17 227.65 L421.07 225.15 L422.96 223.77 L424.86 223.55 L426.75 224.31 L428.65 225.73 L430.54 227.48 L432.44 229.37 L434.33 231.37 L436.23 233.47 L438.12 235.67 L440.02 237.96 L441.91 240.33 L443.81 242.77 L445.70 245.27 L447.59 247.83 L449.49 250.42 L451.38 253.04 L453.28 255.68 L455.17 258.34 L457.07 261.00 L458.96 263.65 L460.86 266.30 L462.75 268.94 L464.65 271.55 L466.54 274.15 L468.44 276.71 L470.33 279.25 L472.23 281.74 L474.12 284.19 L476.02 286.59 L477.91 288.94 L479.81 291.23 L481.70 293.46 L483.60 295.61 L485.49 297.69 L487.38 299.70 L489.28 301.62 L491.17 303.45 L493.07 305.19 L494.96 306.84 L496.86 308.42 L498.75 309.92 L500.65 311.35 L502.54 312.71 L504.44 314.00 L506.33 315.24 L508.23 316.42 L510.12 317.55 L512.02 318.63 L513.91 319.66 L515.81 320.66 L517.70 321.62 L519.60 322.55 L521.49 323.46 L523.38 324.34 L525.28 325.20 L527.17 326.04 L529.07 326.86 L530.96 327.66 L532.86 328.43 L534.75 329.18 L536.65 329.90 L538.54 330.60 L540.44 331.26 L542.33 331.91 L544.23 332.52 L546.12 333.11 L548.02 333.67 L549.91 334.21 L551.81 334.73 L553.70 335.22 L555.60 335.69 L557.49 336.13 L559.39 336.56 L561.28 336.97 L563.17 337.35 L565.07 337.72 L566.96 338.07 L568.86 338.40 L570.75 338.72 L572.65 339.02 L574.54 339.31 L576.44 339.58 L578.33 339.84 L580.23 340.09 L582.12 340.32 L584.02 340.54 L585.91 340.76 L587.81 340.96 L589.70 341.16 L591.60 341.34 L593.49 341.52 L595.39 341.70 L597.28 341.86 L599.17 342.03 L601.07 342.19 L602.96 342.34 L604.86 342.49 L606.75 342.64 L608.65 342.79 L610.54 342.94 L612.44 343.09 L614.33 343.24 L616.23 343.39 L618.12 343.55 L620.02 343.70 L621.91 343.87 L623.81 344.03 L625.70 344.21 L627.60 344.39 L629.49 344.57 L631.39 344.77 L633.28 344.97 L635.17 345.18" stroke="#ec3e44" stroke-width="2.0" fill="none"/><path d="M409.70 275.24 L411.59 265.97 L413.49 258.05 L415.38 251.27 L417.28 245.42 L419.17 240.31 L421.07 235.88 L422.96 232.13 L424.86 229.08 L426.75 226.74 L428.65 225.15 L430.54 224.32 L432.44 224.27 L434.33 224.90 L436.23 226.11 L438.12 227.76 L440.02 229.72 L441.91 231.89 L443.81 234.16 L445.70 236.44 L447.59 238.66 L449.49 240.77 L451.38 242.81 L453.28 244.82 L455.17 246.84 L457.07 248.93 L458.96 251.13 L460.86 253.47 L462.75 255.96 L464.65 258.56 L466.54 261.21 L468.44 263.87 L470.33 266.49 L472.23 269.04 L474.12 271.51 L476.02 273.92 L477.91 276.27 L479.81 278.55 L481.70 280.76 L483.60 282.92 L485.49 285.02 L487.38 287.07 L489.28 289.07 L491.17 291.01 L493.07 292.92 L494.96 294.77 L496.86 296.59 L498.75 298.36 L500.65 300.10 L502.54 301.81 L504.44 303.47 L506.33 305.10 L508.23 306.69 L510.12 308.24 L512.02 309.75 L513.91 311.21 L515.81 312.63 L517.70 314.01 L519.60 315.34 L521.49 316.62 L523.38 317.86 L525.28 319.04 L527.17 320.17 L529.07 321.25 L530.96 322.28 L532.86 323.26 L534.75 324.18 L536.65 325.06 L538.54 325.89 L540.44 326.67 L542.33 327.41 L544.23 328.12 L546.12 328.78 L548.02 329.41 L549.91 330.01 L551.81 330.58 L553.70 331.11 L555.60 331.62 L557.49 332.11 L559.39 332.57 L561.28 333.02 L563.17 333.44 L565.07 333.85 L566.96 334.25 L568.86 334.64 L570.75 335.01 L572.65 335.38 L574.54 335.75 L576.44 336.11 L578.33 336.47 L580.23 336.83 L582.12 337.20 L584.02 337.57 L585.91 337.94 L587.81 338.31 L589.70 338.68 L591.60 339.04 L593.49 339.40 L595.39 339.76 L597.28 340.11 L599.17 340.45 L601.07 340.79 L602.96 341.11 L604.86 341.42 L606.75 341.72 L608.65 342.01 L610.54 342.28 L612.44 342.53 L614.33 342.77 L616.23 342.99 L618.12 343.18 L620.02 343.36 L621.91 343.51 L623.81 343.64 L625.70 343.75 L627.60 343.83 L629.49 343.88 L631.39 343.90 L633.28 343.89 L635.17 343.85" stroke="#2170dc" stroke-width="2.0" fill="none"/></g><rect x="290" y="7.30" width="15.2" height="142.70" fill="url(#cbg)"/><rect x="290" y="150" width="15.2" height="2" fill="#000010"/><text x="309.60" y="10.90" font-size="11" text-anchor="start">0.30</text><text x="309.60" y="31.35" font-size="11" text-anchor="start">0.25</text><text x="309.60" y="51.80" font-size="11" text-anchor="start">0.20</text><text x="309.60" y="72.25" font-size="11" text-anchor="start">0.15</text><text x="309.60" y="92.70" font-size="11" text-anchor="start">0.10</text><text x="309.60" y="113.15" font-size="11" text-anchor="start">0.05</text><text x="309.60" y="133.60" font-size="11" text-anchor="start">0.00</text><text x="309.60" y="154.05" font-size="11" text-anchor="start">-0.05</text><rect x="641" y="8.20" width="15.5" height="146.60" fill="url(#cbg)"/><text x="660.80" y="12.25" font-size="11" text-anchor="start">0.30</text><text x="660.80" y="33.08" font-size="11" text-anchor="start">0.25</text><text x="660.80" y="53.91" font-size="11" text-anchor="start">0.20</text><text x="660.80" y="74.74" font-size="11" text-anchor="start">0.15</text><text x="660.80" y="95.57" font-size="11" text-anchor="start">0.10</text><text x="660.80" y="116.40" font-size="11" text-anchor="start">0.05</text><text x="660.80" y="137.23" font-size="11" text-anchor="start">0.00</text><text x="660.80" y="158.06" font-size="11" text-anchor="start">-0.05</text></g></svg></body></html>
